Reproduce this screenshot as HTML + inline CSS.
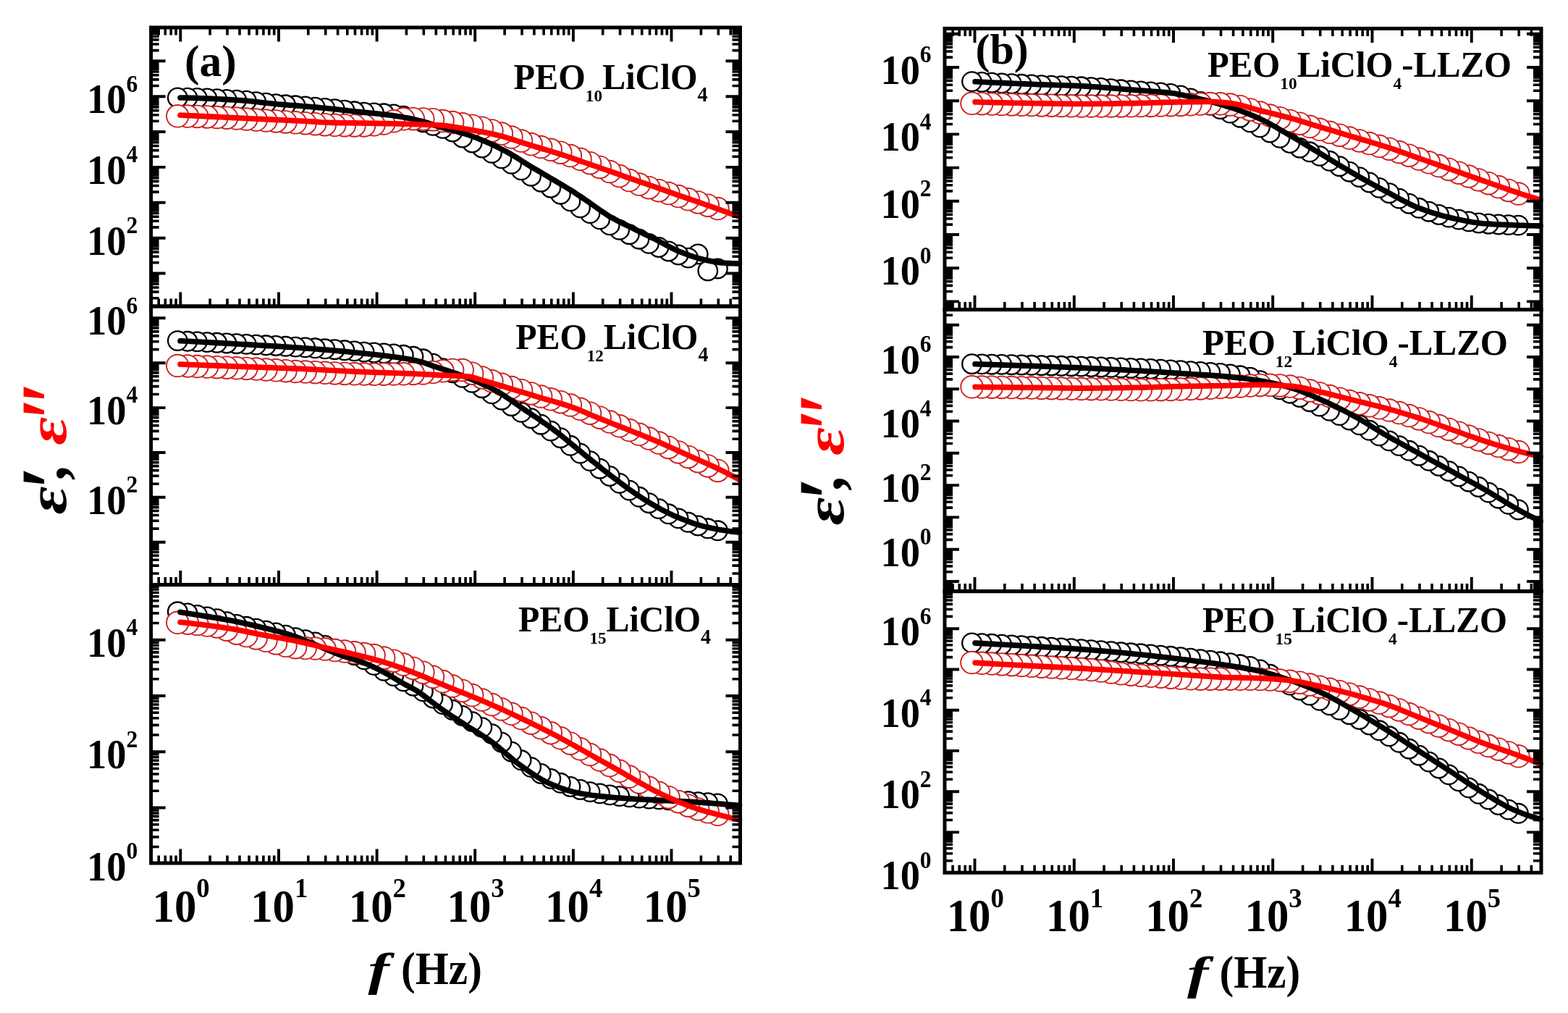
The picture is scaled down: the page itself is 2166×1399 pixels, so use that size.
<!DOCTYPE html>
<html><head><meta charset="utf-8"><title>Dielectric permittivity</title><style>
html,body{margin:0;padding:0;background:#fff;overflow:hidden}
svg{display:block}
text{font-family:"Liberation Serif",serif;font-weight:bold;fill:#000}
.it{font-style:italic}
</style></head><body>
<svg width="2166" height="1399" viewBox="0 0 2166 1399">
<rect x="0" y="0" width="2166" height="1399" fill="#fff"/>
<g fill="#fff" stroke="#000" stroke-width="2.3"><circle cx="991.4" cy="371" r="13.3"/><circle cx="977.8" cy="374" r="13.3"/><circle cx="964.2" cy="351" r="13.3"/><circle cx="950.7" cy="356.1" r="13.3"/><circle cx="937.1" cy="352" r="13.3"/><circle cx="923.5" cy="347" r="13.3"/><circle cx="910" cy="341.5" r="13.3"/><circle cx="896.4" cy="336.4" r="13.3"/><circle cx="882.9" cy="330.2" r="13.3"/><circle cx="869.3" cy="323.7" r="13.3"/><circle cx="855.7" cy="317.4" r="13.3"/><circle cx="842.2" cy="310.9" r="13.3"/><circle cx="828.6" cy="302.9" r="13.3"/><circle cx="815" cy="294.6" r="13.3"/><circle cx="801.5" cy="286.9" r="13.3"/><circle cx="787.9" cy="277.9" r="13.3"/><circle cx="774.3" cy="268.2" r="13.3"/><circle cx="760.8" cy="259.2" r="13.3"/><circle cx="747.2" cy="251.2" r="13.3"/><circle cx="733.6" cy="243.2" r="13.3"/><circle cx="720.1" cy="234.8" r="13.3"/><circle cx="706.5" cy="226.4" r="13.3"/><circle cx="692.9" cy="218.8" r="13.3"/><circle cx="679.4" cy="211.3" r="13.3"/><circle cx="665.8" cy="204" r="13.3"/><circle cx="652.2" cy="197" r="13.3"/><circle cx="638.7" cy="190" r="13.3"/><circle cx="625.1" cy="182" r="13.3"/><circle cx="611.6" cy="177.3" r="13.3"/><circle cx="598" cy="173.4" r="13.3"/><circle cx="584.4" cy="168.7" r="13.3"/><circle cx="570.9" cy="164.1" r="13.3"/><circle cx="557.3" cy="160.1" r="13.3"/><circle cx="543.7" cy="157.9" r="13.3"/><circle cx="530.2" cy="156.8" r="13.3"/><circle cx="516.6" cy="156" r="13.3"/><circle cx="503" cy="155.2" r="13.3"/><circle cx="489.5" cy="153.8" r="13.3"/><circle cx="475.9" cy="152.2" r="13.3"/><circle cx="462.3" cy="150.7" r="13.3"/><circle cx="448.8" cy="149.4" r="13.3"/><circle cx="435.2" cy="148.1" r="13.3"/><circle cx="421.6" cy="146.9" r="13.3"/><circle cx="408.1" cy="145.8" r="13.3"/><circle cx="394.5" cy="144.8" r="13.3"/><circle cx="381" cy="143.6" r="13.3"/><circle cx="367.4" cy="142.2" r="13.3"/><circle cx="353.8" cy="140.6" r="13.3"/><circle cx="340.3" cy="139.2" r="13.3"/><circle cx="326.7" cy="138.2" r="13.3"/><circle cx="313.1" cy="137.4" r="13.3"/><circle cx="299.6" cy="136.7" r="13.3"/><circle cx="286" cy="136" r="13.3"/><circle cx="272.4" cy="135.5" r="13.3"/><circle cx="258.9" cy="135.1" r="13.3"/><circle cx="245.3" cy="135" r="13.3"/></g>
<g fill="#fff" stroke="#cc2222" stroke-width="1.9"><circle cx="991.4" cy="288.1" r="15.3"/><circle cx="977.8" cy="283.7" r="15.3"/><circle cx="964.2" cy="279.4" r="15.3"/><circle cx="950.7" cy="275.3" r="15.3"/><circle cx="937.1" cy="271.1" r="15.3"/><circle cx="923.5" cy="267.1" r="15.3"/><circle cx="910" cy="263.2" r="15.3"/><circle cx="896.4" cy="259.2" r="15.3"/><circle cx="882.9" cy="254.6" r="15.3"/><circle cx="869.3" cy="249.1" r="15.3"/><circle cx="855.7" cy="243.1" r="15.3"/><circle cx="842.2" cy="237" r="15.3"/><circle cx="828.6" cy="230.9" r="15.3"/><circle cx="815" cy="225.2" r="15.3"/><circle cx="801.5" cy="219.8" r="15.3"/><circle cx="787.9" cy="215.1" r="15.3"/><circle cx="774.3" cy="210.7" r="15.3"/><circle cx="760.8" cy="206.8" r="15.3"/><circle cx="747.2" cy="203" r="15.3"/><circle cx="733.6" cy="199.1" r="15.3"/><circle cx="720.1" cy="194.6" r="15.3"/><circle cx="706.5" cy="189.5" r="15.3"/><circle cx="692.9" cy="184.6" r="15.3"/><circle cx="679.4" cy="180.4" r="15.3"/><circle cx="665.8" cy="176.7" r="15.3"/><circle cx="652.2" cy="173.7" r="15.3"/><circle cx="638.7" cy="171.3" r="15.3"/><circle cx="625.1" cy="169" r="15.3"/><circle cx="611.6" cy="167" r="15.3"/><circle cx="598" cy="165.2" r="15.3"/><circle cx="584.4" cy="164.4" r="15.3"/><circle cx="570.9" cy="164.2" r="15.3"/><circle cx="557.3" cy="164.3" r="15.3"/><circle cx="543.7" cy="167.3" r="15.3"/><circle cx="530.2" cy="170.5" r="15.3"/><circle cx="516.6" cy="172.3" r="15.3"/><circle cx="503" cy="173.4" r="15.3"/><circle cx="489.5" cy="173.4" r="15.3"/><circle cx="475.9" cy="173.2" r="15.3"/><circle cx="462.3" cy="172.8" r="15.3"/><circle cx="448.8" cy="172.2" r="15.3"/><circle cx="435.2" cy="171.2" r="15.3"/><circle cx="421.6" cy="170.2" r="15.3"/><circle cx="408.1" cy="169.3" r="15.3"/><circle cx="394.5" cy="168.4" r="15.3"/><circle cx="381" cy="167.4" r="15.3"/><circle cx="367.4" cy="166.5" r="15.3"/><circle cx="353.8" cy="165.5" r="15.3"/><circle cx="340.3" cy="164.5" r="15.3"/><circle cx="326.7" cy="163.5" r="15.3"/><circle cx="313.1" cy="162.7" r="15.3"/><circle cx="299.6" cy="162" r="15.3"/><circle cx="286" cy="161.4" r="15.3"/><circle cx="272.4" cy="160.9" r="15.3"/><circle cx="258.9" cy="160.6" r="15.3"/><circle cx="245.3" cy="160.3" r="15.3"/></g>
<path d="M249 135 L253.9 135 L258.7 135.1 L263.6 135.2 L268.4 135.4 L273.3 135.5 L278.2 135.7 L283 135.9 L287.9 136.1 L292.7 136.3 L297.6 136.6 L302.4 136.8 L307.3 137.1 L312.2 137.4 L317 137.6 L321.9 137.9 L326.7 138.2 L331.6 138.5 L336.5 138.9 L341.3 139.3 L346.2 139.8 L351 140.3 L355.9 140.8 L360.7 141.4 L365.6 142 L370.5 142.5 L375.3 143 L380.2 143.5 L385 144 L389.9 144.4 L394.8 144.8 L399.6 145.2 L404.5 145.5 L409.3 145.9 L414.2 146.3 L419 146.7 L423.9 147.1 L428.8 147.5 L433.6 147.9 L438.5 148.4 L443.3 148.9 L448.2 149.3 L453.1 149.8 L457.9 150.3 L462.8 150.8 L467.6 151.3 L472.5 151.9 L477.3 152.4 L482.2 153 L487.1 153.5 L491.9 154.1 L496.8 154.6 L501.6 155.1 L506.5 155.5 L511.4 156 L516.2 156.5 L521.1 157 L525.9 157.6 L530.8 158.1 L535.7 158.7 L540.5 159.3 L545.4 160 L550.2 160.7 L555.1 161.5 L559.9 162.4 L564.8 163.3 L569.7 164.3 L574.5 165.4 L579.4 166.6 L584.2 167.8 L589.1 169.2 L594 170.9 L598.8 172.6 L603.7 174.2 L608.5 175.5 L613.4 176.8 L618.2 178 L623.1 179.3 L628 180.6 L632.8 182 L637.7 183.4 L642.5 184.9 L647.4 186.5 L652.3 188.2 L657.1 190 L662 191.9 L666.8 193.9 L671.7 196 L676.5 198.1 L681.4 200.4 L686.3 202.7 L691.1 205.1 L696 207.6 L700.8 210.2 L705.7 212.9 L710.6 215.8 L715.4 218.8 L720.3 221.9 L725.1 225 L730 228 L734.8 230.9 L739.7 233.8 L744.6 236.6 L749.4 239.5 L754.3 242.3 L759.1 245.2 L764 248.1 L768.9 250.9 L773.7 253.8 L778.6 256.6 L783.4 259.6 L788.3 262.6 L793.2 265.6 L798 268.8 L802.9 272 L807.7 275.3 L812.6 278.6 L817.4 282 L822.3 285.5 L827.2 289 L832 292.4 L836.9 295.7 L841.7 298.8 L846.6 301.5 L851.5 304.1 L856.3 306.6 L861.2 309 L866 311.3 L870.9 313.7 L875.7 316.1 L880.6 318.5 L885.5 320.9 L890.3 323.3 L895.2 325.6 L900 328 L904.9 330.4 L909.8 332.9 L914.6 335.5 L919.5 338.1 L924.3 340.7 L929.2 343.2 L934 345.4 L938.9 347.5 L943.8 349.4 L948.6 351.3 L953.5 353.1 L958.3 354.7 L963.2 356.2 L968.1 357.5 L972.9 358.6 L977.8 359.7 L982.6 360.8 L987.5 361.7 L992.3 362.4 L997.2 363 L1002.1 363.3 L1006.9 363.6 L1011.8 363.8 L1016.6 363.9 L1021.5 364" fill="none" stroke="#000" stroke-width="7.6" stroke-linecap="round" stroke-linejoin="round"/>
<path d="M249 159 L253.9 159.2 L258.7 159.5 L263.6 159.7 L268.4 159.9 L273.3 160.2 L278.2 160.4 L283 160.7 L287.9 160.9 L292.7 161.1 L297.6 161.4 L302.4 161.6 L307.3 161.8 L312.2 162.1 L317 162.3 L321.9 162.6 L326.7 162.8 L331.6 163 L336.5 163.3 L341.3 163.5 L346.2 163.7 L351 164 L355.9 164.2 L360.7 164.4 L365.6 164.7 L370.5 164.9 L375.3 165.1 L380.2 165.4 L385 165.6 L389.9 165.8 L394.8 166.1 L399.6 166.3 L404.5 166.6 L409.3 166.8 L414.2 167 L419 167.3 L423.9 167.5 L428.8 167.8 L433.6 168.1 L438.5 168.4 L443.3 168.8 L448.2 169 L453.1 169.3 L457.9 169.4 L462.8 169.6 L467.6 169.6 L472.5 169.7 L477.3 169.8 L482.2 169.8 L487.1 169.9 L491.9 169.9 L496.8 170 L501.6 170.1 L506.5 170.1 L511.4 170.2 L516.2 170.3 L521.1 170.4 L525.9 170.5 L530.8 170.6 L535.7 170.6 L540.5 170.7 L545.4 170.8 L550.2 171 L555.1 171.1 L559.9 171.2 L564.8 171.3 L569.7 171.4 L574.5 171.6 L579.4 171.7 L584.2 171.9 L589.1 172.1 L594 172.3 L598.8 172.5 L603.7 172.8 L608.5 173 L613.4 173.4 L618.2 174 L623.1 174.7 L628 175.4 L632.8 176.3 L637.7 177.1 L642.5 178 L647.4 178.8 L652.3 179.7 L657.1 180.5 L662 181.4 L666.8 182.3 L671.7 183.3 L676.5 184.3 L681.4 185.3 L686.3 186.5 L691.1 187.6 L696 188.9 L700.8 190.3 L705.7 191.8 L710.6 193.4 L715.4 195 L720.3 196.6 L725.1 198.2 L730 199.7 L734.8 201.2 L739.7 202.6 L744.6 204 L749.4 205.5 L754.3 206.9 L759.1 208.3 L764 209.8 L768.9 211.3 L773.7 212.8 L778.6 214.4 L783.4 216 L788.3 217.7 L793.2 219.4 L798 221.1 L802.9 222.8 L807.7 224.5 L812.6 226.1 L817.4 227.8 L822.3 229.5 L827.2 231.1 L832 232.8 L836.9 234.5 L841.7 236.2 L846.6 237.9 L851.5 239.6 L856.3 241.3 L861.2 243.1 L866 244.8 L870.9 246.5 L875.7 248.2 L880.6 249.9 L885.5 251.6 L890.3 253.2 L895.2 254.9 L900 256.5 L904.9 258.2 L909.8 259.9 L914.6 261.6 L919.5 263.4 L924.3 265.1 L929.2 266.8 L934 268.6 L938.9 270.3 L943.8 271.9 L948.6 273.6 L953.5 275.3 L958.3 276.9 L963.2 278.6 L968.1 280.3 L972.9 282 L977.8 283.7 L982.6 285.4 L987.5 287.1 L992.3 288.9 L997.2 290.6 L1002.1 292.3 L1006.9 294.1 L1011.8 295.8 L1016.6 297.6 L1021.5 299.3" fill="none" stroke="#ff0000" stroke-width="7.6" stroke-linecap="round" stroke-linejoin="round"/>
<g fill="#fff" stroke="#000" stroke-width="2.3"><circle cx="991.4" cy="732.8" r="13.3"/><circle cx="977.8" cy="729.8" r="13.3"/><circle cx="964.2" cy="726" r="13.3"/><circle cx="950.7" cy="721.3" r="13.3"/><circle cx="937.1" cy="715.9" r="13.3"/><circle cx="923.5" cy="709.8" r="13.3"/><circle cx="910" cy="702.6" r="13.3"/><circle cx="896.4" cy="694.7" r="13.3"/><circle cx="882.9" cy="686.3" r="13.3"/><circle cx="869.3" cy="677.1" r="13.3"/><circle cx="855.7" cy="667.4" r="13.3"/><circle cx="842.2" cy="657.5" r="13.3"/><circle cx="828.6" cy="647.2" r="13.3"/><circle cx="815" cy="636.6" r="13.3"/><circle cx="801.5" cy="626.1" r="13.3"/><circle cx="787.9" cy="615.3" r="13.3"/><circle cx="774.3" cy="604.7" r="13.3"/><circle cx="760.8" cy="595.1" r="13.3"/><circle cx="747.2" cy="586.2" r="13.3"/><circle cx="733.6" cy="577.7" r="13.3"/><circle cx="720.1" cy="569.3" r="13.3"/><circle cx="706.5" cy="560.7" r="13.3"/><circle cx="692.9" cy="552.2" r="13.3"/><circle cx="679.4" cy="543.9" r="13.3"/><circle cx="665.8" cy="535.7" r="13.3"/><circle cx="652.2" cy="528.3" r="13.3"/><circle cx="638.7" cy="521.3" r="13.3"/><circle cx="625.1" cy="514.8" r="13.3"/><circle cx="611.6" cy="508.6" r="13.3"/><circle cx="598" cy="502.1" r="13.3"/><circle cx="584.4" cy="495.8" r="13.3"/><circle cx="570.9" cy="492.3" r="13.3"/><circle cx="557.3" cy="490.3" r="13.3"/><circle cx="543.7" cy="488.9" r="13.3"/><circle cx="530.2" cy="487.9" r="13.3"/><circle cx="516.6" cy="487" r="13.3"/><circle cx="503" cy="486.1" r="13.3"/><circle cx="489.5" cy="484.9" r="13.3"/><circle cx="475.9" cy="483.8" r="13.3"/><circle cx="462.3" cy="482.7" r="13.3"/><circle cx="448.8" cy="481.8" r="13.3"/><circle cx="435.2" cy="480.8" r="13.3"/><circle cx="421.6" cy="479.9" r="13.3"/><circle cx="408.1" cy="479.1" r="13.3"/><circle cx="394.5" cy="478.3" r="13.3"/><circle cx="381" cy="477.5" r="13.3"/><circle cx="367.4" cy="476.8" r="13.3"/><circle cx="353.8" cy="476.1" r="13.3"/><circle cx="340.3" cy="475.4" r="13.3"/><circle cx="326.7" cy="474.7" r="13.3"/><circle cx="313.1" cy="474" r="13.3"/><circle cx="299.6" cy="473.3" r="13.3"/><circle cx="286" cy="472.6" r="13.3"/><circle cx="272.4" cy="471.9" r="13.3"/><circle cx="258.9" cy="471.3" r="13.3"/><circle cx="245.3" cy="470.6" r="13.3"/></g>
<g fill="#fff" stroke="#cc2222" stroke-width="1.9"><circle cx="991.4" cy="649.9" r="15.3"/><circle cx="977.8" cy="643.4" r="15.3"/><circle cx="964.2" cy="637.2" r="15.3"/><circle cx="950.7" cy="630.9" r="15.3"/><circle cx="937.1" cy="624.4" r="15.3"/><circle cx="923.5" cy="617.9" r="15.3"/><circle cx="910" cy="611.6" r="15.3"/><circle cx="896.4" cy="605.6" r="15.3"/><circle cx="882.9" cy="599.8" r="15.3"/><circle cx="869.3" cy="594.1" r="15.3"/><circle cx="855.7" cy="588.3" r="15.3"/><circle cx="842.2" cy="582.6" r="15.3"/><circle cx="828.6" cy="576.7" r="15.3"/><circle cx="815" cy="570.7" r="15.3"/><circle cx="801.5" cy="564.8" r="15.3"/><circle cx="787.9" cy="559.5" r="15.3"/><circle cx="774.3" cy="555.2" r="15.3"/><circle cx="760.8" cy="551.3" r="15.3"/><circle cx="747.2" cy="547.5" r="15.3"/><circle cx="733.6" cy="543.4" r="15.3"/><circle cx="720.1" cy="539.2" r="15.3"/><circle cx="706.5" cy="535.1" r="15.3"/><circle cx="692.9" cy="530.8" r="15.3"/><circle cx="679.4" cy="526.3" r="15.3"/><circle cx="665.8" cy="521.4" r="15.3"/><circle cx="652.2" cy="515.7" r="15.3"/><circle cx="638.7" cy="511" r="15.3"/><circle cx="625.1" cy="510.9" r="15.3"/><circle cx="611.6" cy="512.3" r="15.3"/><circle cx="598" cy="514.1" r="15.3"/><circle cx="584.4" cy="515.5" r="15.3"/><circle cx="570.9" cy="515.9" r="15.3"/><circle cx="557.3" cy="516.3" r="15.3"/><circle cx="543.7" cy="516.5" r="15.3"/><circle cx="530.2" cy="516.7" r="15.3"/><circle cx="516.6" cy="516.8" r="15.3"/><circle cx="503" cy="516.6" r="15.3"/><circle cx="489.5" cy="516.3" r="15.3"/><circle cx="475.9" cy="515.9" r="15.3"/><circle cx="462.3" cy="515.4" r="15.3"/><circle cx="448.8" cy="514.8" r="15.3"/><circle cx="435.2" cy="514.2" r="15.3"/><circle cx="421.6" cy="513.6" r="15.3"/><circle cx="408.1" cy="513" r="15.3"/><circle cx="394.5" cy="512.2" r="15.3"/><circle cx="381" cy="511.3" r="15.3"/><circle cx="367.4" cy="510.5" r="15.3"/><circle cx="353.8" cy="509.6" r="15.3"/><circle cx="340.3" cy="508.9" r="15.3"/><circle cx="326.7" cy="508.3" r="15.3"/><circle cx="313.1" cy="507.7" r="15.3"/><circle cx="299.6" cy="507.2" r="15.3"/><circle cx="286" cy="506.6" r="15.3"/><circle cx="272.4" cy="506" r="15.3"/><circle cx="258.9" cy="505.5" r="15.3"/><circle cx="245.3" cy="505" r="15.3"/></g>
<path d="M249 470.8 L253.9 471 L258.7 471.3 L263.6 471.5 L268.4 471.8 L273.3 472 L278.2 472.3 L283 472.6 L287.9 472.8 L292.7 473.1 L297.6 473.4 L302.4 473.6 L307.3 473.9 L312.2 474.2 L317 474.4 L321.9 474.7 L326.7 475 L331.6 475.3 L336.5 475.6 L341.3 475.8 L346.2 476.1 L351 476.4 L355.9 476.7 L360.7 477 L365.6 477.3 L370.5 477.6 L375.3 477.8 L380.2 478.1 L385 478.4 L389.9 478.8 L394.8 479.1 L399.6 479.4 L404.5 479.7 L409.3 480 L414.2 480.4 L419 480.7 L423.9 481.1 L428.8 481.5 L433.6 481.8 L438.5 482.2 L443.3 482.6 L448.2 483 L453.1 483.4 L457.9 483.8 L462.8 484.2 L467.6 484.6 L472.5 485.1 L477.3 485.5 L482.2 486 L487.1 486.5 L491.9 487 L496.8 487.5 L501.6 488 L506.5 488.5 L511.4 489 L516.2 489.5 L521.1 490.1 L525.9 490.6 L530.8 491.2 L535.7 491.8 L540.5 492.4 L545.4 493.1 L550.2 493.8 L555.1 494.5 L559.9 495.3 L564.8 496.1 L569.7 497 L574.5 498 L579.4 499.1 L584.2 500.5 L589.1 502.1 L594 503.9 L598.8 505.6 L603.7 507.2 L608.5 508.8 L613.4 510.3 L618.2 511.9 L623.1 513.5 L628 515.1 L632.8 516.8 L637.7 518.6 L642.5 520.4 L647.4 522.3 L652.3 524.2 L657.1 526.2 L662 528.3 L666.8 530.5 L671.7 532.7 L676.5 535.1 L681.4 537.6 L686.3 540.2 L691.1 543.1 L696 546.1 L700.8 549.3 L705.7 552.7 L710.6 556.1 L715.4 559.5 L720.3 562.9 L725.1 566.2 L730 569.4 L734.8 572.7 L739.7 575.9 L744.6 579.2 L749.4 582.6 L754.3 585.9 L759.1 589.4 L764 592.9 L768.9 596.6 L773.7 600.3 L778.6 604.2 L783.4 608.2 L788.3 612.2 L793.2 616.2 L798 620.3 L802.9 624.3 L807.7 628.2 L812.6 632.1 L817.4 636 L822.3 639.9 L827.2 643.8 L832 647.7 L836.9 651.5 L841.7 655.3 L846.6 659 L851.5 662.6 L856.3 666.3 L861.2 669.9 L866 673.5 L870.9 677 L875.7 680.4 L880.6 683.7 L885.5 686.9 L890.3 690 L895.2 693 L900 695.9 L904.9 698.7 L909.8 701.5 L914.6 704.2 L919.5 706.7 L924.3 709.1 L929.2 711.4 L934 713.5 L938.9 715.5 L943.8 717.5 L948.6 719.3 L953.5 721.1 L958.3 722.8 L963.2 724.4 L968.1 725.8 L972.9 727.1 L977.8 728.2 L982.6 729.3 L987.5 730.3 L992.3 731.2 L997.2 732 L1002.1 732.8 L1006.9 733.5 L1011.8 734.2 L1016.6 734.8 L1021.5 735.3" fill="none" stroke="#000" stroke-width="7.6" stroke-linecap="round" stroke-linejoin="round"/>
<path d="M249 503.1 L253.9 503.3 L258.7 503.5 L263.6 503.7 L268.4 503.8 L273.3 504 L278.2 504.2 L283 504.4 L287.9 504.6 L292.7 504.8 L297.6 504.9 L302.4 505.1 L307.3 505.3 L312.2 505.5 L317 505.7 L321.9 505.9 L326.7 506 L331.6 506.2 L336.5 506.4 L341.3 506.6 L346.2 506.8 L351 506.9 L355.9 507.1 L360.7 507.3 L365.6 507.5 L370.5 507.6 L375.3 507.8 L380.2 508 L385 508.2 L389.9 508.4 L394.8 508.5 L399.6 508.7 L404.5 508.9 L409.3 509.1 L414.2 509.3 L419 509.5 L423.9 509.7 L428.8 510 L433.6 510.2 L438.5 510.5 L443.3 510.7 L448.2 511 L453.1 511.2 L457.9 511.5 L462.8 511.8 L467.6 512 L472.5 512.3 L477.3 512.5 L482.2 512.8 L487.1 513 L491.9 513.2 L496.8 513.4 L501.6 513.7 L506.5 513.8 L511.4 514 L516.2 514.2 L521.1 514.4 L525.9 514.5 L530.8 514.7 L535.7 514.9 L540.5 515 L545.4 515.2 L550.2 515.3 L555.1 515.5 L559.9 515.7 L564.8 515.9 L569.7 516.1 L574.5 516.3 L579.4 516.5 L584.2 516.8 L589.1 517.1 L594 517.3 L598.8 517.6 L603.7 517.9 L608.5 518.1 L613.4 518.3 L618.2 518.5 L623.1 518.7 L628 518.9 L632.8 519.1 L637.7 519.4 L642.5 519.7 L647.4 520.1 L652.3 520.8 L657.1 522.3 L662 523.9 L666.8 525.3 L671.7 526.7 L676.5 528.2 L681.4 529.6 L686.3 531 L691.1 532.5 L696 533.9 L700.8 535.4 L705.7 536.8 L710.6 538.3 L715.4 539.8 L720.3 541.3 L725.1 542.7 L730 544.2 L734.8 545.7 L739.7 547.2 L744.6 548.7 L749.4 550.1 L754.3 551.5 L759.1 552.9 L764 554.2 L768.9 555.6 L773.7 557 L778.6 558.5 L783.4 560 L788.3 561.6 L793.2 563.4 L798 565.3 L802.9 567.3 L807.7 569.3 L812.6 571.4 L817.4 573.4 L822.3 575.5 L827.2 577.5 L832 579.4 L836.9 581.3 L841.7 583.2 L846.6 585.2 L851.5 587.1 L856.3 589 L861.2 590.9 L866 592.8 L870.9 594.8 L875.7 596.7 L880.6 598.6 L885.5 600.6 L890.3 602.5 L895.2 604.4 L900 606.4 L904.9 608.4 L909.8 610.5 L914.6 612.6 L919.5 614.7 L924.3 616.9 L929.2 619.1 L934 621.3 L938.9 623.5 L943.8 625.7 L948.6 627.9 L953.5 630.1 L958.3 632.3 L963.2 634.4 L968.1 636.6 L972.9 638.7 L977.8 640.8 L982.6 643 L987.5 645.2 L992.3 647.5 L997.2 649.9 L1002.1 652.3 L1006.9 654.8 L1011.8 657.3 L1016.6 659.9 L1021.5 662.5" fill="none" stroke="#ff0000" stroke-width="7.6" stroke-linecap="round" stroke-linejoin="round"/>
<g fill="#fff" stroke="#000" stroke-width="2.3"><circle cx="991.4" cy="1109.9" r="13.3"/><circle cx="977.8" cy="1108.7" r="13.3"/><circle cx="964.2" cy="1107.6" r="13.3"/><circle cx="950.7" cy="1106.6" r="13.3"/><circle cx="937.1" cy="1105.7" r="13.3"/><circle cx="923.5" cy="1104.8" r="13.3"/><circle cx="910" cy="1103.9" r="13.3"/><circle cx="896.4" cy="1103.1" r="13.3"/><circle cx="882.9" cy="1102.1" r="13.3"/><circle cx="869.3" cy="1100.9" r="13.3"/><circle cx="855.7" cy="1099.6" r="13.3"/><circle cx="842.2" cy="1097.9" r="13.3"/><circle cx="828.6" cy="1095.9" r="13.3"/><circle cx="815" cy="1093.6" r="13.3"/><circle cx="801.5" cy="1090.5" r="13.3"/><circle cx="787.9" cy="1086.5" r="13.3"/><circle cx="774.3" cy="1081.3" r="13.3"/><circle cx="760.8" cy="1075.5" r="13.3"/><circle cx="747.2" cy="1068.5" r="13.3"/><circle cx="733.6" cy="1059.6" r="13.3"/><circle cx="720.1" cy="1049.8" r="13.3"/><circle cx="706.5" cy="1038.2" r="13.3"/><circle cx="692.9" cy="1025.2" r="13.3"/><circle cx="679.4" cy="1013.6" r="13.3"/><circle cx="665.8" cy="1004.6" r="13.3"/><circle cx="652.2" cy="996.6" r="13.3"/><circle cx="638.7" cy="988.5" r="13.3"/><circle cx="625.1" cy="980.5" r="13.3"/><circle cx="611.6" cy="972.6" r="13.3"/><circle cx="598" cy="964" r="13.3"/><circle cx="584.4" cy="954.9" r="13.3"/><circle cx="570.9" cy="947.2" r="13.3"/><circle cx="557.3" cy="940.8" r="13.3"/><circle cx="543.7" cy="933.6" r="13.3"/><circle cx="530.2" cy="926.3" r="13.3"/><circle cx="516.6" cy="918.6" r="13.3"/><circle cx="503" cy="910.9" r="13.3"/><circle cx="489.5" cy="904.9" r="13.3"/><circle cx="475.9" cy="900.7" r="13.3"/><circle cx="462.3" cy="896.3" r="13.3"/><circle cx="448.8" cy="891.5" r="13.3"/><circle cx="435.2" cy="886.9" r="13.3"/><circle cx="421.6" cy="883.7" r="13.3"/><circle cx="408.1" cy="880.6" r="13.3"/><circle cx="394.5" cy="877.1" r="13.3"/><circle cx="381" cy="874" r="13.3"/><circle cx="367.4" cy="871.1" r="13.3"/><circle cx="353.8" cy="868.2" r="13.3"/><circle cx="340.3" cy="865.3" r="13.3"/><circle cx="326.7" cy="862.5" r="13.3"/><circle cx="313.1" cy="858.6" r="13.3"/><circle cx="299.6" cy="854.6" r="13.3"/><circle cx="286" cy="851.9" r="13.3"/><circle cx="272.4" cy="849.4" r="13.3"/><circle cx="258.9" cy="847" r="13.3"/><circle cx="245.3" cy="844.8" r="13.3"/></g>
<g fill="#fff" stroke="#cc2222" stroke-width="1.9"><circle cx="991.4" cy="1124.8" r="15.3"/><circle cx="977.8" cy="1121.3" r="15.3"/><circle cx="964.2" cy="1117.4" r="15.3"/><circle cx="950.7" cy="1112.7" r="15.3"/><circle cx="937.1" cy="1107.2" r="15.3"/><circle cx="923.5" cy="1101.2" r="15.3"/><circle cx="910" cy="1094.8" r="15.3"/><circle cx="896.4" cy="1087.8" r="15.3"/><circle cx="882.9" cy="1080.4" r="15.3"/><circle cx="869.3" cy="1072.6" r="15.3"/><circle cx="855.7" cy="1064.8" r="15.3"/><circle cx="842.2" cy="1057.1" r="15.3"/><circle cx="828.6" cy="1049.6" r="15.3"/><circle cx="815" cy="1042" r="15.3"/><circle cx="801.5" cy="1034.3" r="15.3"/><circle cx="787.9" cy="1026.7" r="15.3"/><circle cx="774.3" cy="1019.3" r="15.3"/><circle cx="760.8" cy="1012.2" r="15.3"/><circle cx="747.2" cy="1005.3" r="15.3"/><circle cx="733.6" cy="998.7" r="15.3"/><circle cx="720.1" cy="992.1" r="15.3"/><circle cx="706.5" cy="985.8" r="15.3"/><circle cx="692.9" cy="979.5" r="15.3"/><circle cx="679.4" cy="973" r="15.3"/><circle cx="665.8" cy="966.5" r="15.3"/><circle cx="652.2" cy="960.1" r="15.3"/><circle cx="638.7" cy="953.9" r="15.3"/><circle cx="625.1" cy="947.5" r="15.3"/><circle cx="611.6" cy="941.1" r="15.3"/><circle cx="598" cy="934.8" r="15.3"/><circle cx="584.4" cy="928.7" r="15.3"/><circle cx="570.9" cy="922.9" r="15.3"/><circle cx="557.3" cy="917.6" r="15.3"/><circle cx="543.7" cy="912.7" r="15.3"/><circle cx="530.2" cy="908.5" r="15.3"/><circle cx="516.6" cy="905.1" r="15.3"/><circle cx="503" cy="903" r="15.3"/><circle cx="489.5" cy="901.3" r="15.3"/><circle cx="475.9" cy="899.6" r="15.3"/><circle cx="462.3" cy="898.1" r="15.3"/><circle cx="448.8" cy="896.6" r="15.3"/><circle cx="435.2" cy="895.5" r="15.3"/><circle cx="421.6" cy="895.1" r="15.3"/><circle cx="408.1" cy="894.2" r="15.3"/><circle cx="394.5" cy="891.8" r="15.3"/><circle cx="381" cy="888.4" r="15.3"/><circle cx="367.4" cy="884.8" r="15.3"/><circle cx="353.8" cy="881.4" r="15.3"/><circle cx="340.3" cy="878.1" r="15.3"/><circle cx="326.7" cy="874.7" r="15.3"/><circle cx="313.1" cy="869.7" r="15.3"/><circle cx="299.6" cy="865.4" r="15.3"/><circle cx="286" cy="863.6" r="15.3"/><circle cx="272.4" cy="862" r="15.3"/><circle cx="258.9" cy="860.7" r="15.3"/><circle cx="245.3" cy="859.8" r="15.3"/></g>
<path d="M249 845.4 L253.9 846.2 L258.7 846.9 L263.6 847.7 L268.4 848.5 L273.3 849.3 L278.2 850.1 L283 850.9 L287.9 851.7 L292.7 852.5 L297.6 853.3 L302.4 854.1 L307.3 854.9 L312.2 855.8 L317 856.6 L321.9 857.5 L326.7 858.5 L331.6 859.5 L336.5 860.5 L341.3 861.6 L346.2 862.7 L351 863.8 L355.9 865 L360.7 866.2 L365.6 867.4 L370.5 868.5 L375.3 869.7 L380.2 870.9 L385 872.2 L389.9 873.5 L394.8 874.9 L399.6 876.4 L404.5 878 L409.3 879.7 L414.2 881.6 L419 883.6 L423.9 885.5 L428.8 887.5 L433.6 889.5 L438.5 891.5 L443.3 893.6 L448.2 895.7 L453.1 897.7 L457.9 899.8 L462.8 901.8 L467.6 903.6 L472.5 905.4 L477.3 907 L482.2 908.5 L487.1 910.1 L491.9 911.6 L496.8 913.2 L501.6 915 L506.5 917 L511.4 919.1 L516.2 921.3 L521.1 923.7 L525.9 926.1 L530.8 928.6 L535.7 931.3 L540.5 934.1 L545.4 937 L550.2 939.9 L555.1 942.7 L559.9 945.5 L564.8 948 L569.7 950.6 L574.5 953.3 L579.4 956.5 L584.2 959.9 L589.1 963.6 L594 967.4 L598.8 971.1 L603.7 974.8 L608.5 978.3 L613.4 981.7 L618.2 985 L623.1 988.3 L628 991.5 L632.8 994.6 L637.7 997.8 L642.5 1001 L647.4 1004.1 L652.3 1007.1 L657.1 1010 L662 1013 L666.8 1016.1 L671.7 1019.2 L676.5 1022.5 L681.4 1026.1 L686.3 1030 L691.1 1034 L696 1038.2 L700.8 1042.4 L705.7 1046.5 L710.6 1050.6 L715.4 1054.4 L720.3 1057.9 L725.1 1061.3 L730 1064.8 L734.8 1068.1 L739.7 1071.3 L744.6 1074.4 L749.4 1077.2 L754.3 1079.8 L759.1 1082.1 L764 1084.1 L768.9 1086.1 L773.7 1088 L778.6 1089.7 L783.4 1091.3 L788.3 1092.7 L793.2 1094 L798 1095 L802.9 1095.9 L807.7 1096.7 L812.6 1097.5 L817.4 1098.2 L822.3 1098.8 L827.2 1099.4 L832 1099.9 L836.9 1100.4 L841.7 1100.9 L846.6 1101.3 L851.5 1101.7 L856.3 1102.1 L861.2 1102.4 L866 1102.7 L870.9 1103.1 L875.7 1103.4 L880.6 1103.7 L885.5 1103.9 L890.3 1104.2 L895.2 1104.4 L900 1104.6 L904.9 1104.9 L909.8 1105.1 L914.6 1105.3 L919.5 1105.6 L924.3 1105.8 L929.2 1106.1 L934 1106.3 L938.9 1106.5 L943.8 1106.8 L948.6 1107 L953.5 1107.3 L958.3 1107.6 L963.2 1107.9 L968.1 1108.2 L972.9 1108.6 L977.8 1108.9 L982.6 1109.3 L987.5 1109.7 L992.3 1110 L997.2 1110.4 L1002.1 1110.8 L1006.9 1111.2 L1011.8 1111.6 L1016.6 1112 L1021.5 1112.4" fill="none" stroke="#000" stroke-width="7.6" stroke-linecap="round" stroke-linejoin="round"/>
<path d="M249 859.2 L253.9 859.7 L258.7 860.2 L263.6 860.8 L268.4 861.4 L273.3 862 L278.2 862.6 L283 863.2 L287.9 863.8 L292.7 864.5 L297.6 865.1 L302.4 865.8 L307.3 866.5 L312.2 867.3 L317 868 L321.9 868.8 L326.7 869.7 L331.6 870.6 L336.5 871.5 L341.3 872.5 L346.2 873.5 L351 874.5 L355.9 875.5 L360.7 876.4 L365.6 877.3 L370.5 878.2 L375.3 879 L380.2 879.9 L385 880.7 L389.9 881.6 L394.8 882.5 L399.6 883.4 L404.5 884.4 L409.3 885.4 L414.2 886.5 L419 887.5 L423.9 888.6 L428.8 889.7 L433.6 890.9 L438.5 892 L443.3 893.1 L448.2 894.2 L453.1 895.4 L457.9 896.5 L462.8 897.6 L467.6 898.6 L472.5 899.7 L477.3 900.8 L482.2 902 L487.1 903.1 L491.9 904.3 L496.8 905.5 L501.6 906.7 L506.5 907.9 L511.4 909.2 L516.2 910.5 L521.1 911.9 L525.9 913.2 L530.8 914.7 L535.7 916.1 L540.5 917.7 L545.4 919.3 L550.2 921 L555.1 922.7 L559.9 924.6 L564.8 926.4 L569.7 928.3 L574.5 930.2 L579.4 932.1 L584.2 934.1 L589.1 936.1 L594 938.2 L598.8 940.2 L603.7 942.3 L608.5 944.3 L613.4 946.3 L618.2 948.3 L623.1 950.3 L628 952.2 L632.8 954.2 L637.7 956.1 L642.5 958.1 L647.4 960.1 L652.3 962 L657.1 964 L662 966 L666.8 968.1 L671.7 970.1 L676.5 972.2 L681.4 974.4 L686.3 976.5 L691.1 978.7 L696 980.9 L700.8 983.1 L705.7 985.4 L710.6 987.6 L715.4 989.9 L720.3 992.2 L725.1 994.5 L730 996.9 L734.8 999.2 L739.7 1001.6 L744.6 1004 L749.4 1006.5 L754.3 1008.9 L759.1 1011.4 L764 1013.9 L768.9 1016.4 L773.7 1019 L778.6 1021.6 L783.4 1024.3 L788.3 1027 L793.2 1029.7 L798 1032.4 L802.9 1035.1 L807.7 1037.8 L812.6 1040.6 L817.4 1043.3 L822.3 1046.1 L827.2 1048.8 L832 1051.5 L836.9 1054.2 L841.7 1056.9 L846.6 1059.6 L851.5 1062.3 L856.3 1065.1 L861.2 1067.9 L866 1070.7 L870.9 1073.5 L875.7 1076.3 L880.6 1079.1 L885.5 1081.8 L890.3 1084.5 L895.2 1087.2 L900 1089.8 L904.9 1092.3 L909.8 1094.7 L914.6 1097.1 L919.5 1099.4 L924.3 1101.6 L929.2 1103.8 L934 1105.9 L938.9 1108 L943.8 1110 L948.6 1111.9 L953.5 1113.7 L958.3 1115.4 L963.2 1117 L968.1 1118.5 L972.9 1119.9 L977.8 1121.3 L982.6 1122.6 L987.5 1123.8 L992.3 1125.1 L997.2 1126.4 L1002.1 1127.6 L1006.9 1128.9 L1011.8 1130.1 L1016.6 1131.3 L1021.5 1132.5" fill="none" stroke="#ff0000" stroke-width="7.6" stroke-linecap="round" stroke-linejoin="round"/>
<g fill="#fff" stroke="#000" stroke-width="2.3"><circle cx="2097.4" cy="311.1" r="13.3"/><circle cx="2083.7" cy="310.6" r="13.3"/><circle cx="2069.9" cy="310" r="13.3"/><circle cx="2056.2" cy="309.2" r="13.3"/><circle cx="2042.5" cy="308" r="13.3"/><circle cx="2028.8" cy="305.9" r="13.3"/><circle cx="2015" cy="303.1" r="13.3"/><circle cx="2001.3" cy="300.1" r="13.3"/><circle cx="1987.6" cy="296.5" r="13.3"/><circle cx="1973.8" cy="292.2" r="13.3"/><circle cx="1960.1" cy="287.3" r="13.3"/><circle cx="1946.4" cy="281.2" r="13.3"/><circle cx="1932.7" cy="274.1" r="13.3"/><circle cx="1919" cy="266.7" r="13.3"/><circle cx="1905.2" cy="259.4" r="13.3"/><circle cx="1891.5" cy="252" r="13.3"/><circle cx="1877.8" cy="244.6" r="13.3"/><circle cx="1864" cy="237.2" r="13.3"/><circle cx="1850.3" cy="229.7" r="13.3"/><circle cx="1836.6" cy="222.3" r="13.3"/><circle cx="1822.9" cy="215.4" r="13.3"/><circle cx="1809.2" cy="209.8" r="13.3"/><circle cx="1795.4" cy="204.2" r="13.3"/><circle cx="1781.7" cy="197.5" r="13.3"/><circle cx="1768" cy="190.3" r="13.3"/><circle cx="1754.2" cy="183" r="13.3"/><circle cx="1740.5" cy="175.8" r="13.3"/><circle cx="1726.8" cy="168.9" r="13.3"/><circle cx="1713.1" cy="162.2" r="13.3"/><circle cx="1699.3" cy="156.1" r="13.3"/><circle cx="1685.6" cy="150.6" r="13.3"/><circle cx="1671.9" cy="145.3" r="13.3"/><circle cx="1658.2" cy="140.4" r="13.3"/><circle cx="1644.5" cy="135.9" r="13.3"/><circle cx="1630.7" cy="131.9" r="13.3"/><circle cx="1617" cy="129.5" r="13.3"/><circle cx="1603.3" cy="128" r="13.3"/><circle cx="1589.5" cy="126.9" r="13.3"/><circle cx="1575.8" cy="126" r="13.3"/><circle cx="1562.1" cy="124.9" r="13.3"/><circle cx="1548.4" cy="123.8" r="13.3"/><circle cx="1534.7" cy="122.6" r="13.3"/><circle cx="1520.9" cy="121.5" r="13.3"/><circle cx="1507.2" cy="120.6" r="13.3"/><circle cx="1493.5" cy="119.8" r="13.3"/><circle cx="1479.8" cy="119.2" r="13.3"/><circle cx="1466" cy="118.6" r="13.3"/><circle cx="1452.3" cy="118.1" r="13.3"/><circle cx="1438.6" cy="117.6" r="13.3"/><circle cx="1424.8" cy="117" r="13.3"/><circle cx="1411.1" cy="116.3" r="13.3"/><circle cx="1397.4" cy="115.6" r="13.3"/><circle cx="1383.7" cy="114.9" r="13.3"/><circle cx="1370" cy="114.2" r="13.3"/><circle cx="1356.2" cy="113.4" r="13.3"/><circle cx="1342.5" cy="112.6" r="13.3"/></g>
<g fill="#fff" stroke="#cc2222" stroke-width="1.9"><circle cx="2097.4" cy="267.5" r="15.3"/><circle cx="2083.7" cy="262.9" r="15.3"/><circle cx="2069.9" cy="258.1" r="15.3"/><circle cx="2056.2" cy="253.2" r="15.3"/><circle cx="2042.5" cy="248.4" r="15.3"/><circle cx="2028.8" cy="243.5" r="15.3"/><circle cx="2015" cy="238.7" r="15.3"/><circle cx="2001.3" cy="233.9" r="15.3"/><circle cx="1987.6" cy="229.1" r="15.3"/><circle cx="1973.8" cy="224.3" r="15.3"/><circle cx="1960.1" cy="219.5" r="15.3"/><circle cx="1946.4" cy="214.7" r="15.3"/><circle cx="1932.7" cy="210" r="15.3"/><circle cx="1919" cy="205.7" r="15.3"/><circle cx="1905.2" cy="201.8" r="15.3"/><circle cx="1891.5" cy="198.1" r="15.3"/><circle cx="1877.8" cy="194.4" r="15.3"/><circle cx="1864" cy="190.6" r="15.3"/><circle cx="1850.3" cy="186.7" r="15.3"/><circle cx="1836.6" cy="182.8" r="15.3"/><circle cx="1822.9" cy="178.8" r="15.3"/><circle cx="1809.2" cy="174.8" r="15.3"/><circle cx="1795.4" cy="170.7" r="15.3"/><circle cx="1781.7" cy="166.9" r="15.3"/><circle cx="1768" cy="163.2" r="15.3"/><circle cx="1754.2" cy="159.5" r="15.3"/><circle cx="1740.5" cy="155.6" r="15.3"/><circle cx="1726.8" cy="151.4" r="15.3"/><circle cx="1713.1" cy="147.2" r="15.3"/><circle cx="1699.3" cy="144.5" r="15.3"/><circle cx="1685.6" cy="143.3" r="15.3"/><circle cx="1671.9" cy="143.1" r="15.3"/><circle cx="1658.2" cy="143.6" r="15.3"/><circle cx="1644.5" cy="144.3" r="15.3"/><circle cx="1630.7" cy="144.9" r="15.3"/><circle cx="1617" cy="145.2" r="15.3"/><circle cx="1603.3" cy="145.5" r="15.3"/><circle cx="1589.5" cy="145.9" r="15.3"/><circle cx="1575.8" cy="146.1" r="15.3"/><circle cx="1562.1" cy="146.3" r="15.3"/><circle cx="1548.4" cy="146.4" r="15.3"/><circle cx="1534.7" cy="146.5" r="15.3"/><circle cx="1520.9" cy="146.5" r="15.3"/><circle cx="1507.2" cy="146.5" r="15.3"/><circle cx="1493.5" cy="146.5" r="15.3"/><circle cx="1479.8" cy="146.3" r="15.3"/><circle cx="1466" cy="146" r="15.3"/><circle cx="1452.3" cy="145.7" r="15.3"/><circle cx="1438.6" cy="145.4" r="15.3"/><circle cx="1424.8" cy="145.1" r="15.3"/><circle cx="1411.1" cy="144.8" r="15.3"/><circle cx="1397.4" cy="144.4" r="15.3"/><circle cx="1383.7" cy="144" r="15.3"/><circle cx="1370" cy="143.6" r="15.3"/><circle cx="1356.2" cy="143.2" r="15.3"/><circle cx="1342.5" cy="142.8" r="15.3"/></g>
<path d="M1347 112.8 L1351.9 113 L1356.8 113.3 L1361.7 113.5 L1366.6 113.7 L1371.6 114 L1376.5 114.2 L1381.4 114.4 L1386.3 114.6 L1391.2 114.9 L1396.1 115.1 L1401 115.3 L1405.9 115.5 L1410.9 115.7 L1415.8 115.9 L1420.7 116.1 L1425.6 116.3 L1430.5 116.5 L1435.4 116.7 L1440.3 116.9 L1445.2 117 L1450.2 117.2 L1455.1 117.3 L1460 117.5 L1464.9 117.7 L1469.8 117.8 L1474.7 118 L1479.6 118.2 L1484.5 118.4 L1489.4 118.6 L1494.4 118.8 L1499.3 119.1 L1504.2 119.4 L1509.1 119.7 L1514 120 L1518.9 120.4 L1523.8 120.8 L1528.7 121.1 L1533.7 121.5 L1538.6 122 L1543.5 122.4 L1548.4 122.8 L1553.3 123.2 L1558.2 123.6 L1563.1 124 L1568 124.4 L1572.9 124.8 L1577.9 125.1 L1582.8 125.5 L1587.7 125.8 L1592.6 126.2 L1597.5 126.6 L1602.4 127 L1607.3 127.4 L1612.2 127.9 L1617.2 128.5 L1622.1 129.1 L1627 130 L1631.9 130.9 L1636.8 132 L1641.7 133.1 L1646.6 134.2 L1651.5 135.3 L1656.5 136.5 L1661.4 137.6 L1666.3 138.8 L1671.2 140.1 L1676.1 141.4 L1681 142.7 L1685.9 144.1 L1690.8 145.5 L1695.7 147 L1700.7 148.6 L1705.6 150.2 L1710.5 151.9 L1715.4 153.7 L1720.3 155.6 L1725.2 157.5 L1730.1 159.6 L1735 161.6 L1740 163.8 L1744.9 166.2 L1749.8 168.6 L1754.7 171.3 L1759.6 174 L1764.5 176.8 L1769.4 179.7 L1774.3 182.5 L1779.3 185.4 L1784.2 188.3 L1789.1 191.1 L1794 194 L1798.9 196.9 L1803.8 199.9 L1808.7 202.9 L1813.6 205.9 L1818.5 208.9 L1823.5 211.8 L1828.4 214.8 L1833.3 217.8 L1838.2 220.7 L1843.1 223.7 L1848 226.7 L1852.9 229.7 L1857.8 232.6 L1862.8 235.6 L1867.7 238.4 L1872.6 241.3 L1877.5 244.1 L1882.4 246.9 L1887.3 249.6 L1892.2 252.3 L1897.1 255 L1902.1 257.7 L1907 260.3 L1911.9 263 L1916.8 265.5 L1921.7 268.2 L1926.6 270.8 L1931.5 273.5 L1936.4 276.1 L1941.3 278.7 L1946.3 281.2 L1951.2 283.5 L1956.1 285.7 L1961 287.6 L1965.9 289.4 L1970.8 291.2 L1975.7 292.8 L1980.6 294.4 L1985.6 295.9 L1990.5 297.3 L1995.4 298.6 L2000.3 299.8 L2005.2 301 L2010.1 302.1 L2015 303.1 L2019.9 304.1 L2024.8 305.1 L2029.8 306 L2034.7 306.9 L2039.6 307.6 L2044.5 308.2 L2049.4 308.7 L2054.3 309 L2059.2 309.4 L2064.1 309.7 L2069.1 309.9 L2074 310.2 L2078.9 310.4 L2083.8 310.6 L2088.7 310.8 L2093.6 311 L2098.5 311.2 L2103.4 311.3 L2108.4 311.5 L2113.3 311.7 L2118.2 311.8 L2123.1 312 L2128 312.1" fill="none" stroke="#000" stroke-width="7.6" stroke-linecap="round" stroke-linejoin="round"/>
<path d="M1347 140.9 L1351.9 141 L1356.8 141.2 L1361.7 141.3 L1366.6 141.4 L1371.6 141.5 L1376.5 141.6 L1381.4 141.7 L1386.3 141.9 L1391.2 142 L1396.1 142.1 L1401 142.2 L1405.9 142.3 L1410.9 142.4 L1415.8 142.4 L1420.7 142.5 L1425.6 142.6 L1430.5 142.7 L1435.4 142.8 L1440.3 142.9 L1445.2 142.9 L1450.2 143 L1455.1 143.1 L1460 143.2 L1464.9 143.3 L1469.8 143.3 L1474.7 143.4 L1479.6 143.4 L1484.5 143.5 L1489.4 143.5 L1494.4 143.5 L1499.3 143.5 L1504.2 143.5 L1509.1 143.4 L1514 143.4 L1518.9 143.4 L1523.8 143.3 L1528.7 143.2 L1533.7 143.2 L1538.6 143.1 L1543.5 143 L1548.4 142.9 L1553.3 142.8 L1558.2 142.7 L1563.1 142.6 L1568 142.6 L1572.9 142.4 L1577.9 142.3 L1582.8 142.2 L1587.7 142 L1592.6 141.9 L1597.5 141.7 L1602.4 141.6 L1607.3 141.4 L1612.2 141.3 L1617.2 141.2 L1622.1 141.1 L1627 141 L1631.9 140.9 L1636.8 140.9 L1641.7 140.8 L1646.6 140.7 L1651.5 140.6 L1656.5 140.6 L1661.4 140.5 L1666.3 140.5 L1671.2 140.5 L1676.1 140.6 L1681 140.8 L1685.9 141.2 L1690.8 141.6 L1695.7 142.1 L1700.7 142.7 L1705.6 143.4 L1710.5 144.4 L1715.4 145.6 L1720.3 147 L1725.2 148.4 L1730.1 149.8 L1735 151.2 L1740 152.5 L1744.9 153.7 L1749.8 154.9 L1754.7 156.1 L1759.6 157.3 L1764.5 158.5 L1769.4 159.7 L1774.3 161 L1779.3 162.2 L1784.2 163.6 L1789.1 164.9 L1794 166.4 L1798.9 167.8 L1803.8 169.3 L1808.7 170.8 L1813.6 172.3 L1818.5 173.8 L1823.5 175.3 L1828.4 176.8 L1833.3 178.3 L1838.2 179.7 L1843.1 181.2 L1848 182.7 L1852.9 184.1 L1857.8 185.6 L1862.8 187.1 L1867.7 188.6 L1872.6 190 L1877.5 191.5 L1882.4 193 L1887.3 194.4 L1892.2 195.9 L1897.1 197.3 L1902.1 198.8 L1907 200.3 L1911.9 201.8 L1916.8 203.4 L1921.7 205 L1926.6 206.7 L1931.5 208.4 L1936.4 210.1 L1941.3 211.9 L1946.3 213.6 L1951.2 215.4 L1956.1 217.1 L1961 218.8 L1965.9 220.5 L1970.8 222.3 L1975.7 224 L1980.6 225.7 L1985.6 227.4 L1990.5 229.1 L1995.4 230.8 L2000.3 232.5 L2005.2 234.3 L2010.1 236 L2015 237.7 L2019.9 239.4 L2024.8 241.2 L2029.8 242.9 L2034.7 244.6 L2039.6 246.4 L2044.5 248.1 L2049.4 249.8 L2054.3 251.5 L2059.2 253.3 L2064.1 255 L2069.1 256.7 L2074 258.5 L2078.9 260.2 L2083.8 261.9 L2088.7 263.6 L2093.6 265.2 L2098.5 266.9 L2103.4 268.5 L2108.4 270.1 L2113.3 271.6 L2118.2 273.2 L2123.1 274.7 L2128 276.2" fill="none" stroke="#ff0000" stroke-width="7.6" stroke-linecap="round" stroke-linejoin="round"/>
<g fill="#fff" stroke="#000" stroke-width="2.3"><circle cx="2097.4" cy="704" r="13.3"/><circle cx="2083.7" cy="696.3" r="13.3"/><circle cx="2069.9" cy="688.2" r="13.3"/><circle cx="2056.2" cy="680.1" r="13.3"/><circle cx="2042.5" cy="672.5" r="13.3"/><circle cx="2028.8" cy="665.2" r="13.3"/><circle cx="2015" cy="658" r="13.3"/><circle cx="2001.3" cy="650.7" r="13.3"/><circle cx="1987.6" cy="643.5" r="13.3"/><circle cx="1973.8" cy="636.3" r="13.3"/><circle cx="1960.1" cy="629.2" r="13.3"/><circle cx="1946.4" cy="622.3" r="13.3"/><circle cx="1932.7" cy="615.6" r="13.3"/><circle cx="1919" cy="608.9" r="13.3"/><circle cx="1905.2" cy="601.8" r="13.3"/><circle cx="1891.5" cy="594.3" r="13.3"/><circle cx="1877.8" cy="586.8" r="13.3"/><circle cx="1864" cy="580" r="13.3"/><circle cx="1850.3" cy="573.6" r="13.3"/><circle cx="1836.6" cy="567.3" r="13.3"/><circle cx="1822.9" cy="561.1" r="13.3"/><circle cx="1809.2" cy="554.7" r="13.3"/><circle cx="1795.4" cy="548.5" r="13.3"/><circle cx="1781.7" cy="543.2" r="13.3"/><circle cx="1768" cy="537.8" r="13.3"/><circle cx="1754.2" cy="531.6" r="13.3"/><circle cx="1740.5" cy="525.7" r="13.3"/><circle cx="1726.8" cy="521.2" r="13.3"/><circle cx="1713.1" cy="518.8" r="13.3"/><circle cx="1699.3" cy="517" r="13.3"/><circle cx="1685.6" cy="515.5" r="13.3"/><circle cx="1671.9" cy="514.4" r="13.3"/><circle cx="1658.2" cy="513.4" r="13.3"/><circle cx="1644.5" cy="512.6" r="13.3"/><circle cx="1630.7" cy="511.7" r="13.3"/><circle cx="1617" cy="510.9" r="13.3"/><circle cx="1603.3" cy="510.2" r="13.3"/><circle cx="1589.5" cy="509.5" r="13.3"/><circle cx="1575.8" cy="508.9" r="13.3"/><circle cx="1562.1" cy="508.4" r="13.3"/><circle cx="1548.4" cy="507.9" r="13.3"/><circle cx="1534.7" cy="507.4" r="13.3"/><circle cx="1520.9" cy="507" r="13.3"/><circle cx="1507.2" cy="506.5" r="13.3"/><circle cx="1493.5" cy="506.1" r="13.3"/><circle cx="1479.8" cy="505.7" r="13.3"/><circle cx="1466" cy="505.3" r="13.3"/><circle cx="1452.3" cy="505" r="13.3"/><circle cx="1438.6" cy="504.7" r="13.3"/><circle cx="1424.8" cy="504.3" r="13.3"/><circle cx="1411.1" cy="504" r="13.3"/><circle cx="1397.4" cy="503.7" r="13.3"/><circle cx="1383.7" cy="503.4" r="13.3"/><circle cx="1370" cy="503.2" r="13.3"/><circle cx="1356.2" cy="502.9" r="13.3"/><circle cx="1342.5" cy="502.7" r="13.3"/></g>
<g fill="#fff" stroke="#cc2222" stroke-width="1.9"><circle cx="2097.4" cy="624" r="15.3"/><circle cx="2083.7" cy="620.2" r="15.3"/><circle cx="2069.9" cy="616.1" r="15.3"/><circle cx="2056.2" cy="611.9" r="15.3"/><circle cx="2042.5" cy="607.4" r="15.3"/><circle cx="2028.8" cy="602.6" r="15.3"/><circle cx="2015" cy="597.7" r="15.3"/><circle cx="2001.3" cy="592.9" r="15.3"/><circle cx="1987.6" cy="588" r="15.3"/><circle cx="1973.8" cy="583.1" r="15.3"/><circle cx="1960.1" cy="578.4" r="15.3"/><circle cx="1946.4" cy="574.1" r="15.3"/><circle cx="1932.7" cy="570.1" r="15.3"/><circle cx="1919" cy="566.5" r="15.3"/><circle cx="1905.2" cy="563.3" r="15.3"/><circle cx="1891.5" cy="560.3" r="15.3"/><circle cx="1877.8" cy="557.3" r="15.3"/><circle cx="1864" cy="554.1" r="15.3"/><circle cx="1850.3" cy="550.7" r="15.3"/><circle cx="1836.6" cy="547.1" r="15.3"/><circle cx="1822.9" cy="543.4" r="15.3"/><circle cx="1809.2" cy="539.5" r="15.3"/><circle cx="1795.4" cy="535.9" r="15.3"/><circle cx="1781.7" cy="533.6" r="15.3"/><circle cx="1768" cy="532.4" r="15.3"/><circle cx="1754.2" cy="531.8" r="15.3"/><circle cx="1740.5" cy="531.9" r="15.3"/><circle cx="1726.8" cy="532.6" r="15.3"/><circle cx="1713.1" cy="533.5" r="15.3"/><circle cx="1699.3" cy="534.4" r="15.3"/><circle cx="1685.6" cy="535.1" r="15.3"/><circle cx="1671.9" cy="535.8" r="15.3"/><circle cx="1658.2" cy="536.4" r="15.3"/><circle cx="1644.5" cy="537" r="15.3"/><circle cx="1630.7" cy="537.5" r="15.3"/><circle cx="1617" cy="538" r="15.3"/><circle cx="1603.3" cy="538.2" r="15.3"/><circle cx="1589.5" cy="538.3" r="15.3"/><circle cx="1575.8" cy="538.3" r="15.3"/><circle cx="1562.1" cy="538.1" r="15.3"/><circle cx="1548.4" cy="537.8" r="15.3"/><circle cx="1534.7" cy="537.6" r="15.3"/><circle cx="1520.9" cy="537.3" r="15.3"/><circle cx="1507.2" cy="537.2" r="15.3"/><circle cx="1493.5" cy="537" r="15.3"/><circle cx="1479.8" cy="536.8" r="15.3"/><circle cx="1466" cy="536.5" r="15.3"/><circle cx="1452.3" cy="536.2" r="15.3"/><circle cx="1438.6" cy="535.9" r="15.3"/><circle cx="1424.8" cy="535.6" r="15.3"/><circle cx="1411.1" cy="535.4" r="15.3"/><circle cx="1397.4" cy="535.1" r="15.3"/><circle cx="1383.7" cy="534.9" r="15.3"/><circle cx="1370" cy="534.7" r="15.3"/><circle cx="1356.2" cy="534.5" r="15.3"/><circle cx="1342.5" cy="534.3" r="15.3"/></g>
<path d="M1347 502.8 L1351.9 503 L1356.8 503.1 L1361.7 503.3 L1366.6 503.4 L1371.6 503.6 L1376.5 503.7 L1381.4 503.9 L1386.3 504.1 L1391.2 504.2 L1396.1 504.4 L1401 504.6 L1405.9 504.7 L1410.9 504.9 L1415.8 505.1 L1420.7 505.2 L1425.6 505.4 L1430.5 505.6 L1435.4 505.8 L1440.3 505.9 L1445.2 506.1 L1450.2 506.3 L1455.1 506.5 L1460 506.7 L1464.9 506.9 L1469.8 507 L1474.7 507.2 L1479.6 507.4 L1484.5 507.6 L1489.4 507.8 L1494.4 508.1 L1499.3 508.3 L1504.2 508.5 L1509.1 508.7 L1514 508.9 L1518.9 509.2 L1523.8 509.4 L1528.7 509.7 L1533.7 509.9 L1538.6 510.2 L1543.5 510.4 L1548.4 510.7 L1553.3 510.9 L1558.2 511.2 L1563.1 511.5 L1568 511.7 L1572.9 512 L1577.9 512.3 L1582.8 512.6 L1587.7 512.9 L1592.6 513.2 L1597.5 513.5 L1602.4 513.8 L1607.3 514.1 L1612.2 514.5 L1617.2 514.8 L1622.1 515.1 L1627 515.4 L1631.9 515.7 L1636.8 516.1 L1641.7 516.4 L1646.6 516.7 L1651.5 517 L1656.5 517.3 L1661.4 517.6 L1666.3 517.9 L1671.2 518.2 L1676.1 518.6 L1681 518.9 L1685.9 519.3 L1690.8 519.7 L1695.7 520.1 L1700.7 520.6 L1705.6 521.1 L1710.5 521.6 L1715.4 522.2 L1720.3 522.8 L1725.2 523.5 L1730.1 524.2 L1735 524.9 L1740 525.7 L1744.9 526.5 L1749.8 527.4 L1754.7 528.4 L1759.6 529.5 L1764.5 530.6 L1769.4 531.8 L1774.3 533.1 L1779.3 534.4 L1784.2 535.8 L1789.1 537.3 L1794 539 L1798.9 540.9 L1803.8 542.9 L1808.7 544.9 L1813.6 547 L1818.5 549.2 L1823.5 551.4 L1828.4 553.6 L1833.3 555.8 L1838.2 558.1 L1843.1 560.5 L1848 562.9 L1852.9 565.4 L1857.8 567.9 L1862.8 570.5 L1867.7 573.1 L1872.6 575.8 L1877.5 578.5 L1882.4 581.4 L1887.3 584.3 L1892.2 587.4 L1897.1 590.4 L1902.1 593.4 L1907 596.4 L1911.9 599.4 L1916.8 602.3 L1921.7 605.1 L1926.6 607.8 L1931.5 610.5 L1936.4 613.2 L1941.3 615.9 L1946.3 618.6 L1951.2 621.3 L1956.1 624 L1961 626.7 L1965.9 629.4 L1970.8 632.1 L1975.7 634.8 L1980.6 637.5 L1985.6 640.2 L1990.5 642.9 L1995.4 645.5 L2000.3 648.2 L2005.2 650.9 L2010.1 653.6 L2015 656.3 L2019.9 659 L2024.8 661.6 L2029.8 664.3 L2034.7 667 L2039.6 669.7 L2044.5 672.4 L2049.4 675.2 L2054.3 678.1 L2059.2 681 L2064.1 684 L2069.1 687.1 L2074 690.1 L2078.9 693.1 L2083.8 696.1 L2088.7 699 L2093.6 701.8 L2098.5 704.6 L2103.4 707.3 L2108.4 709.9 L2113.3 712.5 L2118.2 715 L2123.1 717.5 L2128 720" fill="none" stroke="#000" stroke-width="7.6" stroke-linecap="round" stroke-linejoin="round"/>
<path d="M1347 534.4 L1351.9 534.5 L1356.8 534.5 L1361.7 534.6 L1366.6 534.6 L1371.6 534.7 L1376.5 534.7 L1381.4 534.8 L1386.3 534.9 L1391.2 534.9 L1396.1 535 L1401 535 L1405.9 535.1 L1410.9 535.1 L1415.8 535.2 L1420.7 535.2 L1425.6 535.3 L1430.5 535.4 L1435.4 535.4 L1440.3 535.5 L1445.2 535.6 L1450.2 535.6 L1455.1 535.7 L1460 535.8 L1464.9 535.9 L1469.8 535.9 L1474.7 536 L1479.6 536 L1484.5 536.1 L1489.4 536.1 L1494.4 536.1 L1499.3 536.1 L1504.2 536.1 L1509.1 536.1 L1514 536 L1518.9 536 L1523.8 535.9 L1528.7 535.9 L1533.7 535.8 L1538.6 535.7 L1543.5 535.7 L1548.4 535.6 L1553.3 535.5 L1558.2 535.4 L1563.1 535.3 L1568 535.3 L1572.9 535.2 L1577.9 535.1 L1582.8 534.9 L1587.7 534.8 L1592.6 534.7 L1597.5 534.5 L1602.4 534.4 L1607.3 534.2 L1612.2 534.1 L1617.2 534 L1622.1 533.8 L1627 533.7 L1631.9 533.6 L1636.8 533.5 L1641.7 533.4 L1646.6 533.3 L1651.5 533.2 L1656.5 533.1 L1661.4 533.1 L1666.3 533 L1671.2 532.9 L1676.1 532.8 L1681 532.7 L1685.9 532.7 L1690.8 532.6 L1695.7 532.5 L1700.7 532.4 L1705.6 532.2 L1710.5 532.1 L1715.4 531.9 L1720.3 531.8 L1725.2 531.7 L1730.1 531.6 L1735 531.5 L1740 531.5 L1744.9 531.5 L1749.8 531.6 L1754.7 531.8 L1759.6 532 L1764.5 532.2 L1769.4 532.4 L1774.3 532.7 L1779.3 533 L1784.2 533.4 L1789.1 533.9 L1794 534.6 L1798.9 535.5 L1803.8 536.5 L1808.7 537.7 L1813.6 538.8 L1818.5 540 L1823.5 541.2 L1828.4 542.3 L1833.3 543.5 L1838.2 544.7 L1843.1 545.9 L1848 547.1 L1852.9 548.4 L1857.8 549.6 L1862.8 550.9 L1867.7 552.2 L1872.6 553.4 L1877.5 554.6 L1882.4 555.8 L1887.3 557 L1892.2 558.2 L1897.1 559.4 L1902.1 560.6 L1907 561.9 L1911.9 563.2 L1916.8 564.5 L1921.7 565.8 L1926.6 567.2 L1931.5 568.6 L1936.4 570.1 L1941.3 571.6 L1946.3 573.1 L1951.2 574.6 L1956.1 576.2 L1961 577.7 L1965.9 579.3 L1970.8 581 L1975.7 582.7 L1980.6 584.5 L1985.6 586.2 L1990.5 588 L1995.4 589.8 L2000.3 591.5 L2005.2 593.3 L2010.1 595 L2015 596.7 L2019.9 598.5 L2024.8 600.3 L2029.8 602 L2034.7 603.7 L2039.6 605.4 L2044.5 607.1 L2049.4 608.7 L2054.3 610.3 L2059.2 611.8 L2064.1 613.4 L2069.1 614.9 L2074 616.3 L2078.9 617.8 L2083.8 619.2 L2088.7 620.6 L2093.6 622 L2098.5 623.3 L2103.4 624.6 L2108.4 625.9 L2113.3 627.2 L2118.2 628.4 L2123.1 629.6 L2128 630.8" fill="none" stroke="#ff0000" stroke-width="7.6" stroke-linecap="round" stroke-linejoin="round"/>
<g fill="#fff" stroke="#000" stroke-width="2.3"><circle cx="2097.4" cy="1123.3" r="13.3"/><circle cx="2083.7" cy="1118.1" r="13.3"/><circle cx="2069.9" cy="1111.5" r="13.3"/><circle cx="2056.2" cy="1104" r="13.3"/><circle cx="2042.5" cy="1096.3" r="13.3"/><circle cx="2028.8" cy="1087.9" r="13.3"/><circle cx="2015" cy="1078.9" r="13.3"/><circle cx="2001.3" cy="1069.9" r="13.3"/><circle cx="1987.6" cy="1061" r="13.3"/><circle cx="1973.8" cy="1052.1" r="13.3"/><circle cx="1960.1" cy="1043.2" r="13.3"/><circle cx="1946.4" cy="1034.2" r="13.3"/><circle cx="1932.7" cy="1025.3" r="13.3"/><circle cx="1919" cy="1016.8" r="13.3"/><circle cx="1905.2" cy="1008.8" r="13.3"/><circle cx="1891.5" cy="1001" r="13.3"/><circle cx="1877.8" cy="993.5" r="13.3"/><circle cx="1864" cy="986.7" r="13.3"/><circle cx="1850.3" cy="980.3" r="13.3"/><circle cx="1836.6" cy="973.9" r="13.3"/><circle cx="1822.9" cy="967.3" r="13.3"/><circle cx="1809.2" cy="960.1" r="13.3"/><circle cx="1795.4" cy="953" r="13.3"/><circle cx="1781.7" cy="946.1" r="13.3"/><circle cx="1768" cy="938.7" r="13.3"/><circle cx="1754.2" cy="931.3" r="13.3"/><circle cx="1740.5" cy="925" r="13.3"/><circle cx="1726.8" cy="920.4" r="13.3"/><circle cx="1713.1" cy="917.8" r="13.3"/><circle cx="1699.3" cy="915.7" r="13.3"/><circle cx="1685.6" cy="913.8" r="13.3"/><circle cx="1671.9" cy="912.1" r="13.3"/><circle cx="1658.2" cy="910.6" r="13.3"/><circle cx="1644.5" cy="909.1" r="13.3"/><circle cx="1630.7" cy="907.7" r="13.3"/><circle cx="1617" cy="906.3" r="13.3"/><circle cx="1603.3" cy="905.1" r="13.3"/><circle cx="1589.5" cy="903.9" r="13.3"/><circle cx="1575.8" cy="902.8" r="13.3"/><circle cx="1562.1" cy="901.8" r="13.3"/><circle cx="1548.4" cy="900.8" r="13.3"/><circle cx="1534.7" cy="899.7" r="13.3"/><circle cx="1520.9" cy="898.7" r="13.3"/><circle cx="1507.2" cy="897.7" r="13.3"/><circle cx="1493.5" cy="896.7" r="13.3"/><circle cx="1479.8" cy="895.7" r="13.3"/><circle cx="1466" cy="894.9" r="13.3"/><circle cx="1452.3" cy="894.1" r="13.3"/><circle cx="1438.6" cy="893.3" r="13.3"/><circle cx="1424.8" cy="892.5" r="13.3"/><circle cx="1411.1" cy="891.7" r="13.3"/><circle cx="1397.4" cy="890.9" r="13.3"/><circle cx="1383.7" cy="890.1" r="13.3"/><circle cx="1370" cy="889.3" r="13.3"/><circle cx="1356.2" cy="888.6" r="13.3"/><circle cx="1342.5" cy="887.9" r="13.3"/></g>
<g fill="#fff" stroke="#cc2222" stroke-width="1.9"><circle cx="2097.4" cy="1044.3" r="15.3"/><circle cx="2083.7" cy="1039.4" r="15.3"/><circle cx="2069.9" cy="1034.7" r="15.3"/><circle cx="2056.2" cy="1030" r="15.3"/><circle cx="2042.5" cy="1024.8" r="15.3"/><circle cx="2028.8" cy="1019.4" r="15.3"/><circle cx="2015" cy="1013.7" r="15.3"/><circle cx="2001.3" cy="1008.2" r="15.3"/><circle cx="1987.6" cy="1002.7" r="15.3"/><circle cx="1973.8" cy="997.2" r="15.3"/><circle cx="1960.1" cy="991.7" r="15.3"/><circle cx="1946.4" cy="986" r="15.3"/><circle cx="1932.7" cy="980.4" r="15.3"/><circle cx="1919" cy="975.2" r="15.3"/><circle cx="1905.2" cy="970.6" r="15.3"/><circle cx="1891.5" cy="966.4" r="15.3"/><circle cx="1877.8" cy="962.5" r="15.3"/><circle cx="1864" cy="958.7" r="15.3"/><circle cx="1850.3" cy="955.2" r="15.3"/><circle cx="1836.6" cy="951.8" r="15.3"/><circle cx="1822.9" cy="948.7" r="15.3"/><circle cx="1809.2" cy="945.5" r="15.3"/><circle cx="1795.4" cy="942.7" r="15.3"/><circle cx="1781.7" cy="940.8" r="15.3"/><circle cx="1768" cy="939.5" r="15.3"/><circle cx="1754.2" cy="938.6" r="15.3"/><circle cx="1740.5" cy="938.1" r="15.3"/><circle cx="1726.8" cy="937.8" r="15.3"/><circle cx="1713.1" cy="937.8" r="15.3"/><circle cx="1699.3" cy="937.7" r="15.3"/><circle cx="1685.6" cy="937.7" r="15.3"/><circle cx="1671.9" cy="937.7" r="15.3"/><circle cx="1658.2" cy="937.7" r="15.3"/><circle cx="1644.5" cy="937.3" r="15.3"/><circle cx="1630.7" cy="936.6" r="15.3"/><circle cx="1617" cy="935.7" r="15.3"/><circle cx="1603.3" cy="934.7" r="15.3"/><circle cx="1589.5" cy="933.8" r="15.3"/><circle cx="1575.8" cy="932.8" r="15.3"/><circle cx="1562.1" cy="931.7" r="15.3"/><circle cx="1548.4" cy="930.3" r="15.3"/><circle cx="1534.7" cy="928.5" r="15.3"/><circle cx="1520.9" cy="926.6" r="15.3"/><circle cx="1507.2" cy="925.1" r="15.3"/><circle cx="1493.5" cy="924" r="15.3"/><circle cx="1479.8" cy="923.1" r="15.3"/><circle cx="1466" cy="922.3" r="15.3"/><circle cx="1452.3" cy="921.5" r="15.3"/><circle cx="1438.6" cy="920.7" r="15.3"/><circle cx="1424.8" cy="919.8" r="15.3"/><circle cx="1411.1" cy="919" r="15.3"/><circle cx="1397.4" cy="918.2" r="15.3"/><circle cx="1383.7" cy="917.4" r="15.3"/><circle cx="1370" cy="916.6" r="15.3"/><circle cx="1356.2" cy="915.8" r="15.3"/><circle cx="1342.5" cy="915" r="15.3"/></g>
<path d="M1347 888.1 L1351.9 888.4 L1356.8 888.6 L1361.7 888.9 L1366.6 889.2 L1371.6 889.4 L1376.5 889.7 L1381.4 890 L1386.3 890.3 L1391.2 890.5 L1396.1 890.8 L1401 891.1 L1405.9 891.4 L1410.9 891.7 L1415.8 891.9 L1420.7 892.2 L1425.6 892.5 L1430.5 892.8 L1435.4 893.1 L1440.3 893.4 L1445.2 893.7 L1450.2 893.9 L1455.1 894.2 L1460 894.5 L1464.9 894.8 L1469.8 895.1 L1474.7 895.4 L1479.6 895.7 L1484.5 896 L1489.4 896.4 L1494.4 896.7 L1499.3 897.1 L1504.2 897.5 L1509.1 897.8 L1514 898.2 L1518.9 898.7 L1523.8 899.1 L1528.7 899.5 L1533.7 900 L1538.6 900.4 L1543.5 900.9 L1548.4 901.3 L1553.3 901.8 L1558.2 902.3 L1563.1 902.8 L1568 903.2 L1572.9 903.7 L1577.9 904.2 L1582.8 904.8 L1587.7 905.3 L1592.6 905.8 L1597.5 906.4 L1602.4 906.9 L1607.3 907.5 L1612.2 908.1 L1617.2 908.6 L1622.1 909.2 L1627 909.8 L1631.9 910.4 L1636.8 911 L1641.7 911.6 L1646.6 912.2 L1651.5 912.9 L1656.5 913.5 L1661.4 914.1 L1666.3 914.8 L1671.2 915.4 L1676.1 916.1 L1681 916.8 L1685.9 917.5 L1690.8 918.3 L1695.7 919 L1700.7 919.8 L1705.6 920.5 L1710.5 921.3 L1715.4 922.1 L1720.3 923 L1725.2 923.9 L1730.1 924.8 L1735 925.8 L1740 926.9 L1744.9 928 L1749.8 929.3 L1754.7 930.7 L1759.6 932.2 L1764.5 933.7 L1769.4 935.3 L1774.3 936.9 L1779.3 938.6 L1784.2 940.2 L1789.1 942 L1794 943.7 L1798.9 945.6 L1803.8 947.5 L1808.7 949.4 L1813.6 951.5 L1818.5 953.6 L1823.5 955.8 L1828.4 958 L1833.3 960.4 L1838.2 962.9 L1843.1 965.5 L1848 968.2 L1852.9 971 L1857.8 973.8 L1862.8 976.7 L1867.7 979.5 L1872.6 982.4 L1877.5 985.2 L1882.4 988.1 L1887.3 991 L1892.2 993.9 L1897.1 996.9 L1902.1 999.9 L1907 1002.9 L1911.9 1005.9 L1916.8 1009 L1921.7 1012.1 L1926.6 1015.2 L1931.5 1018.4 L1936.4 1021.6 L1941.3 1024.9 L1946.3 1028.1 L1951.2 1031.3 L1956.1 1034.6 L1961 1037.8 L1965.9 1041 L1970.8 1044.1 L1975.7 1047.3 L1980.6 1050.5 L1985.6 1053.7 L1990.5 1056.9 L1995.4 1060.1 L2000.3 1063.2 L2005.2 1066.4 L2010.1 1069.7 L2015 1072.9 L2019.9 1076.2 L2024.8 1079.5 L2029.8 1082.7 L2034.7 1086 L2039.6 1089.1 L2044.5 1092.2 L2049.4 1095.2 L2054.3 1098.2 L2059.2 1101.1 L2064.1 1104.1 L2069.1 1107 L2074 1109.8 L2078.9 1112.5 L2083.8 1115.1 L2088.7 1117.4 L2093.6 1119.6 L2098.5 1121.6 L2103.4 1123.5 L2108.4 1125.3 L2113.3 1127 L2118.2 1128.5 L2123.1 1130 L2128 1131.3" fill="none" stroke="#000" stroke-width="7.6" stroke-linecap="round" stroke-linejoin="round"/>
<path d="M1347 915.3 L1351.9 915.6 L1356.8 915.9 L1361.7 916.1 L1366.6 916.4 L1371.6 916.7 L1376.5 917 L1381.4 917.2 L1386.3 917.5 L1391.2 917.8 L1396.1 918 L1401 918.3 L1405.9 918.6 L1410.9 918.8 L1415.8 919.1 L1420.7 919.4 L1425.6 919.6 L1430.5 919.9 L1435.4 920.1 L1440.3 920.4 L1445.2 920.6 L1450.2 920.9 L1455.1 921.1 L1460 921.4 L1464.9 921.6 L1469.8 921.8 L1474.7 922.1 L1479.6 922.4 L1484.5 922.6 L1489.4 922.9 L1494.4 923.1 L1499.3 923.4 L1504.2 923.7 L1509.1 924 L1514 924.3 L1518.9 924.6 L1523.8 924.9 L1528.7 925.2 L1533.7 925.5 L1538.6 925.8 L1543.5 926.1 L1548.4 926.4 L1553.3 926.7 L1558.2 927 L1563.1 927.3 L1568 927.7 L1572.9 928 L1577.9 928.3 L1582.8 928.6 L1587.7 928.9 L1592.6 929.2 L1597.5 929.5 L1602.4 929.8 L1607.3 930.1 L1612.2 930.4 L1617.2 930.7 L1622.1 931 L1627 931.4 L1631.9 931.7 L1636.8 932 L1641.7 932.3 L1646.6 932.6 L1651.5 933 L1656.5 933.3 L1661.4 933.6 L1666.3 934 L1671.2 934.3 L1676.1 934.6 L1681 934.9 L1685.9 935.1 L1690.8 935.4 L1695.7 935.5 L1700.7 935.7 L1705.6 935.8 L1710.5 935.9 L1715.4 936 L1720.3 936.1 L1725.2 936.2 L1730.1 936.3 L1735 936.5 L1740 936.6 L1744.9 936.9 L1749.8 937.1 L1754.7 937.4 L1759.6 937.8 L1764.5 938.1 L1769.4 938.5 L1774.3 939 L1779.3 939.5 L1784.2 940 L1789.1 940.7 L1794 941.4 L1798.9 942.4 L1803.8 943.4 L1808.7 944.4 L1813.6 945.6 L1818.5 946.7 L1823.5 947.8 L1828.4 948.9 L1833.3 950.1 L1838.2 951.2 L1843.1 952.4 L1848 953.6 L1852.9 954.8 L1857.8 956.1 L1862.8 957.4 L1867.7 958.7 L1872.6 960 L1877.5 961.4 L1882.4 962.8 L1887.3 964.2 L1892.2 965.6 L1897.1 967.1 L1902.1 968.6 L1907 970.1 L1911.9 971.7 L1916.8 973.4 L1921.7 975.1 L1926.6 977 L1931.5 978.9 L1936.4 980.9 L1941.3 982.9 L1946.3 985 L1951.2 987 L1956.1 989 L1961 991 L1965.9 993 L1970.8 995 L1975.7 996.9 L1980.6 998.9 L1985.6 1000.9 L1990.5 1002.8 L1995.4 1004.8 L2000.3 1006.8 L2005.2 1008.8 L2010.1 1010.7 L2015 1012.7 L2019.9 1014.8 L2024.8 1016.8 L2029.8 1018.8 L2034.7 1020.8 L2039.6 1022.7 L2044.5 1024.6 L2049.4 1026.5 L2054.3 1028.3 L2059.2 1030 L2064.1 1031.8 L2069.1 1033.4 L2074 1035.1 L2078.9 1036.8 L2083.8 1038.4 L2088.7 1040.2 L2093.6 1041.9 L2098.5 1043.7 L2103.4 1045.6 L2108.4 1047.4 L2113.3 1049.3 L2118.2 1051.2 L2123.1 1053.1 L2128 1055" fill="none" stroke="#ff0000" stroke-width="7.6" stroke-linecap="round" stroke-linejoin="round"/>
<path d="M219.2 423L219.2 412.5M219.2 38L219.2 48.5M228.3 423L228.3 412.5M228.3 38L228.3 48.5M236.2 423L236.2 412.5M236.2 38L236.2 48.5M243.1 423L243.1 412.5M243.1 38L243.1 48.5M290.1 423L290.1 412.5M290.1 38L290.1 48.5M314 423L314 412.5M314 38L314 48.5M331 423L331 412.5M331 38L331 48.5M344.1 423L344.1 412.5M344.1 38L344.1 48.5M354.9 423L354.9 412.5M354.9 38L354.9 48.5M363.9 423L363.9 412.5M363.9 38L363.9 48.5M371.8 423L371.8 412.5M371.8 38L371.8 48.5M378.7 423L378.7 412.5M378.7 38L378.7 48.5M425.8 423L425.8 412.5M425.8 38L425.8 48.5M449.7 423L449.7 412.5M449.7 38L449.7 48.5M466.6 423L466.6 412.5M466.6 38L466.6 48.5M479.8 423L479.8 412.5M479.8 38L479.8 48.5M490.5 423L490.5 412.5M490.5 38L490.5 48.5M499.6 423L499.6 412.5M499.6 38L499.6 48.5M507.5 423L507.5 412.5M507.5 38L507.5 48.5M514.4 423L514.4 412.5M514.4 38L514.4 48.5M561.4 423L561.4 412.5M561.4 38L561.4 48.5M585.3 423L585.3 412.5M585.3 38L585.3 48.5M602.3 423L602.3 412.5M602.3 38L602.3 48.5M615.4 423L615.4 412.5M615.4 38L615.4 48.5M626.2 423L626.2 412.5M626.2 38L626.2 48.5M635.2 423L635.2 412.5M635.2 38L635.2 48.5M643.1 423L643.1 412.5M643.1 38L643.1 48.5M650 423L650 412.5M650 38L650 48.5M697.1 423L697.1 412.5M697.1 38L697.1 48.5M721 423L721 412.5M721 38L721 48.5M737.9 423L737.9 412.5M737.9 38L737.9 48.5M751.1 423L751.1 412.5M751.1 38L751.1 48.5M761.8 423L761.8 412.5M761.8 38L761.8 48.5M770.9 423L770.9 412.5M770.9 38L770.9 48.5M778.8 423L778.8 412.5M778.8 38L778.8 48.5M785.7 423L785.7 412.5M785.7 38L785.7 48.5M832.7 423L832.7 412.5M832.7 38L832.7 48.5M856.6 423L856.6 412.5M856.6 38L856.6 48.5M873.6 423L873.6 412.5M873.6 38L873.6 48.5M886.7 423L886.7 412.5M886.7 38L886.7 48.5M897.5 423L897.5 412.5M897.5 38L897.5 48.5M906.5 423L906.5 412.5M906.5 38L906.5 48.5M914.4 423L914.4 412.5M914.4 38L914.4 48.5M921.3 423L921.3 412.5M921.3 38L921.3 48.5M968.4 423L968.4 412.5M968.4 38L968.4 48.5M992.3 423L992.3 412.5M992.3 38L992.3 48.5M1009.2 423L1009.2 412.5M1009.2 38L1009.2 48.5M208.6 411.7L219.6 411.7M1022.5 411.7L1011.5 411.7M208.6 403.1L219.6 403.1M1022.5 403.1L1011.5 403.1M208.6 397L219.6 397M1022.5 397L1011.5 397M208.6 392.2L219.6 392.2M1022.5 392.2L1011.5 392.2M208.6 388.4L219.6 388.4M1022.5 388.4L1011.5 388.4M208.6 385.1L219.6 385.1M1022.5 385.1L1011.5 385.1M208.6 382.3L219.6 382.3M1022.5 382.3L1011.5 382.3M208.6 379.8L219.6 379.8M1022.5 379.8L1011.5 379.8M208.6 362.8L219.6 362.8M1022.5 362.8L1011.5 362.8M208.6 354.2L219.6 354.2M1022.5 354.2L1011.5 354.2M208.6 348.1L219.6 348.1M1022.5 348.1L1011.5 348.1M208.6 343.4L219.6 343.4M1022.5 343.4L1011.5 343.4M208.6 339.5L219.6 339.5M1022.5 339.5L1011.5 339.5M208.6 336.2L219.6 336.2M1022.5 336.2L1011.5 336.2M208.6 333.4L219.6 333.4M1022.5 333.4L1011.5 333.4M208.6 330.9L219.6 330.9M1022.5 330.9L1011.5 330.9M208.6 313.9L219.6 313.9M1022.5 313.9L1011.5 313.9M208.6 305.3L219.6 305.3M1022.5 305.3L1011.5 305.3M208.6 299.2L219.6 299.2M1022.5 299.2L1011.5 299.2M208.6 294.5L219.6 294.5M1022.5 294.5L1011.5 294.5M208.6 290.6L219.6 290.6M1022.5 290.6L1011.5 290.6M208.6 287.4L219.6 287.4M1022.5 287.4L1011.5 287.4M208.6 284.5L219.6 284.5M1022.5 284.5L1011.5 284.5M208.6 282L219.6 282M1022.5 282L1011.5 282M208.6 265.1L219.6 265.1M1022.5 265.1L1011.5 265.1M208.6 256.5L219.6 256.5M1022.5 256.5L1011.5 256.5M208.6 250.4L219.6 250.4M1022.5 250.4L1011.5 250.4M208.6 245.6L219.6 245.6M1022.5 245.6L1011.5 245.6M208.6 241.8L219.6 241.8M1022.5 241.8L1011.5 241.8M208.6 238.5L219.6 238.5M1022.5 238.5L1011.5 238.5M208.6 235.7L219.6 235.7M1022.5 235.7L1011.5 235.7M208.6 233.2L219.6 233.2M1022.5 233.2L1011.5 233.2M208.6 216.2L219.6 216.2M1022.5 216.2L1011.5 216.2M208.6 207.6L219.6 207.6M1022.5 207.6L1011.5 207.6M208.6 201.5L219.6 201.5M1022.5 201.5L1011.5 201.5M208.6 196.8L219.6 196.8M1022.5 196.8L1011.5 196.8M208.6 192.9L219.6 192.9M1022.5 192.9L1011.5 192.9M208.6 189.6L219.6 189.6M1022.5 189.6L1011.5 189.6M208.6 186.8L219.6 186.8M1022.5 186.8L1011.5 186.8M208.6 184.3L219.6 184.3M1022.5 184.3L1011.5 184.3M208.6 167.3L219.6 167.3M1022.5 167.3L1011.5 167.3M208.6 158.7L219.6 158.7M1022.5 158.7L1011.5 158.7M208.6 152.6L219.6 152.6M1022.5 152.6L1011.5 152.6M208.6 147.9L219.6 147.9M1022.5 147.9L1011.5 147.9M208.6 144L219.6 144M1022.5 144L1011.5 144M208.6 140.8L219.6 140.8M1022.5 140.8L1011.5 140.8M208.6 137.9L219.6 137.9M1022.5 137.9L1011.5 137.9M208.6 135.4L219.6 135.4M1022.5 135.4L1011.5 135.4M208.6 118.5L219.6 118.5M1022.5 118.5L1011.5 118.5M208.6 109.9L219.6 109.9M1022.5 109.9L1011.5 109.9M208.6 103.8L219.6 103.8M1022.5 103.8L1011.5 103.8M208.6 99L219.6 99M1022.5 99L1011.5 99M208.6 95.2L219.6 95.2M1022.5 95.2L1011.5 95.2M208.6 91.9L219.6 91.9M1022.5 91.9L1011.5 91.9M208.6 89L219.6 89M1022.5 89L1011.5 89M208.6 86.5L219.6 86.5M1022.5 86.5L1011.5 86.5M208.6 69.6L219.6 69.6M1022.5 69.6L1011.5 69.6M208.6 61L219.6 61M1022.5 61L1011.5 61M208.6 54.9L219.6 54.9M1022.5 54.9L1011.5 54.9M208.6 50.2L219.6 50.2M1022.5 50.2L1011.5 50.2M208.6 46.3L219.6 46.3M1022.5 46.3L1011.5 46.3M208.6 43L219.6 43M1022.5 43L1011.5 43M208.6 40.2L219.6 40.2M1022.5 40.2L1011.5 40.2M219.2 807.6L219.2 797.1M228.3 807.6L228.3 797.1M236.2 807.6L236.2 797.1M243.1 807.6L243.1 797.1M290.1 807.6L290.1 797.1M314 807.6L314 797.1M331 807.6L331 797.1M344.1 807.6L344.1 797.1M354.9 807.6L354.9 797.1M363.9 807.6L363.9 797.1M371.8 807.6L371.8 797.1M378.7 807.6L378.7 797.1M425.8 807.6L425.8 797.1M449.7 807.6L449.7 797.1M466.6 807.6L466.6 797.1M479.8 807.6L479.8 797.1M490.5 807.6L490.5 797.1M499.6 807.6L499.6 797.1M507.5 807.6L507.5 797.1M514.4 807.6L514.4 797.1M561.4 807.6L561.4 797.1M585.3 807.6L585.3 797.1M602.3 807.6L602.3 797.1M615.4 807.6L615.4 797.1M626.2 807.6L626.2 797.1M635.2 807.6L635.2 797.1M643.1 807.6L643.1 797.1M650 807.6L650 797.1M697.1 807.6L697.1 797.1M721 807.6L721 797.1M737.9 807.6L737.9 797.1M751.1 807.6L751.1 797.1M761.8 807.6L761.8 797.1M770.9 807.6L770.9 797.1M778.8 807.6L778.8 797.1M785.7 807.6L785.7 797.1M832.7 807.6L832.7 797.1M856.6 807.6L856.6 797.1M873.6 807.6L873.6 797.1M886.7 807.6L886.7 797.1M897.5 807.6L897.5 797.1M906.5 807.6L906.5 797.1M914.4 807.6L914.4 797.1M921.3 807.6L921.3 797.1M968.4 807.6L968.4 797.1M992.3 807.6L992.3 797.1M1009.2 807.6L1009.2 797.1M208.6 792L219.6 792M1022.5 792L1011.5 792M208.6 781.1L219.6 781.1M1022.5 781.1L1011.5 781.1M208.6 773.3L219.6 773.3M1022.5 773.3L1011.5 773.3M208.6 767.3L219.6 767.3M1022.5 767.3L1011.5 767.3M208.6 762.4L219.6 762.4M1022.5 762.4L1011.5 762.4M208.6 758.3L219.6 758.3M1022.5 758.3L1011.5 758.3M208.6 754.7L219.6 754.7M1022.5 754.7L1011.5 754.7M208.6 751.6L219.6 751.6M1022.5 751.6L1011.5 751.6M208.6 730.1L219.6 730.1M1022.5 730.1L1011.5 730.1M208.6 719.2L219.6 719.2M1022.5 719.2L1011.5 719.2M208.6 711.5L219.6 711.5M1022.5 711.5L1011.5 711.5M208.6 705.5L219.6 705.5M1022.5 705.5L1011.5 705.5M208.6 700.6L219.6 700.6M1022.5 700.6L1011.5 700.6M208.6 696.4L219.6 696.4M1022.5 696.4L1011.5 696.4M208.6 692.8L219.6 692.8M1022.5 692.8L1011.5 692.8M208.6 689.7L219.6 689.7M1022.5 689.7L1011.5 689.7M208.6 668.2L219.6 668.2M1022.5 668.2L1011.5 668.2M208.6 657.3L219.6 657.3M1022.5 657.3L1011.5 657.3M208.6 649.6L219.6 649.6M1022.5 649.6L1011.5 649.6M208.6 643.6L219.6 643.6M1022.5 643.6L1011.5 643.6M208.6 638.7L219.6 638.7M1022.5 638.7L1011.5 638.7M208.6 634.5L219.6 634.5M1022.5 634.5L1011.5 634.5M208.6 631L219.6 631M1022.5 631L1011.5 631M208.6 627.8L219.6 627.8M1022.5 627.8L1011.5 627.8M208.6 606.3L219.6 606.3M1022.5 606.3L1011.5 606.3M208.6 595.4L219.6 595.4M1022.5 595.4L1011.5 595.4M208.6 587.7L219.6 587.7M1022.5 587.7L1011.5 587.7M208.6 581.7L219.6 581.7M1022.5 581.7L1011.5 581.7M208.6 576.8L219.6 576.8M1022.5 576.8L1011.5 576.8M208.6 572.7L219.6 572.7M1022.5 572.7L1011.5 572.7M208.6 569.1L219.6 569.1M1022.5 569.1L1011.5 569.1M208.6 565.9L219.6 565.9M1022.5 565.9L1011.5 565.9M208.6 544.5L219.6 544.5M1022.5 544.5L1011.5 544.5M208.6 533.6L219.6 533.6M1022.5 533.6L1011.5 533.6M208.6 525.8L219.6 525.8M1022.5 525.8L1011.5 525.8M208.6 519.8L219.6 519.8M1022.5 519.8L1011.5 519.8M208.6 514.9L219.6 514.9M1022.5 514.9L1011.5 514.9M208.6 510.8L219.6 510.8M1022.5 510.8L1011.5 510.8M208.6 507.2L219.6 507.2M1022.5 507.2L1011.5 507.2M208.6 504L219.6 504M1022.5 504L1011.5 504M208.6 482.6L219.6 482.6M1022.5 482.6L1011.5 482.6M208.6 471.7L219.6 471.7M1022.5 471.7L1011.5 471.7M208.6 463.9L219.6 463.9M1022.5 463.9L1011.5 463.9M208.6 457.9L219.6 457.9M1022.5 457.9L1011.5 457.9M208.6 453L219.6 453M1022.5 453L1011.5 453M208.6 448.9L219.6 448.9M1022.5 448.9L1011.5 448.9M208.6 445.3L219.6 445.3M1022.5 445.3L1011.5 445.3M208.6 442.2L219.6 442.2M1022.5 442.2L1011.5 442.2M219.2 1192L219.2 1181.5M228.3 1192L228.3 1181.5M236.2 1192L236.2 1181.5M243.1 1192L243.1 1181.5M290.1 1192L290.1 1181.5M314 1192L314 1181.5M331 1192L331 1181.5M344.1 1192L344.1 1181.5M354.9 1192L354.9 1181.5M363.9 1192L363.9 1181.5M371.8 1192L371.8 1181.5M378.7 1192L378.7 1181.5M425.8 1192L425.8 1181.5M449.7 1192L449.7 1181.5M466.6 1192L466.6 1181.5M479.8 1192L479.8 1181.5M490.5 1192L490.5 1181.5M499.6 1192L499.6 1181.5M507.5 1192L507.5 1181.5M514.4 1192L514.4 1181.5M561.4 1192L561.4 1181.5M585.3 1192L585.3 1181.5M602.3 1192L602.3 1181.5M615.4 1192L615.4 1181.5M626.2 1192L626.2 1181.5M635.2 1192L635.2 1181.5M643.1 1192L643.1 1181.5M650 1192L650 1181.5M697.1 1192L697.1 1181.5M721 1192L721 1181.5M737.9 1192L737.9 1181.5M751.1 1192L751.1 1181.5M761.8 1192L761.8 1181.5M770.9 1192L770.9 1181.5M778.8 1192L778.8 1181.5M785.7 1192L785.7 1181.5M832.7 1192L832.7 1181.5M856.6 1192L856.6 1181.5M873.6 1192L873.6 1181.5M886.7 1192L886.7 1181.5M897.5 1192L897.5 1181.5M906.5 1192L906.5 1181.5M914.4 1192L914.4 1181.5M921.3 1192L921.3 1181.5M968.4 1192L968.4 1181.5M992.3 1192L992.3 1181.5M1009.2 1192L1009.2 1181.5M208.6 1169.5L219.6 1169.5M1022.5 1169.5L1011.5 1169.5M208.6 1155.9L219.6 1155.9M1022.5 1155.9L1011.5 1155.9M208.6 1146.2L219.6 1146.2M1022.5 1146.2L1011.5 1146.2M208.6 1138.7L219.6 1138.7M1022.5 1138.7L1011.5 1138.7M208.6 1132.6L219.6 1132.6M1022.5 1132.6L1011.5 1132.6M208.6 1127.4L219.6 1127.4M1022.5 1127.4L1011.5 1127.4M208.6 1123L219.6 1123M1022.5 1123L1011.5 1123M208.6 1119L219.6 1119M1022.5 1119L1011.5 1119M208.6 1092.2L219.6 1092.2M1022.5 1092.2L1011.5 1092.2M208.6 1078.6L219.6 1078.6M1022.5 1078.6L1011.5 1078.6M208.6 1069L219.6 1069M1022.5 1069L1011.5 1069M208.6 1061.5L219.6 1061.5M1022.5 1061.5L1011.5 1061.5M208.6 1055.4L219.6 1055.4M1022.5 1055.4L1011.5 1055.4M208.6 1050.2L219.6 1050.2M1022.5 1050.2L1011.5 1050.2M208.6 1045.7L219.6 1045.7M1022.5 1045.7L1011.5 1045.7M208.6 1041.8L219.6 1041.8M1022.5 1041.8L1011.5 1041.8M208.6 1015L219.6 1015M1022.5 1015L1011.5 1015M208.6 1001.4L219.6 1001.4M1022.5 1001.4L1011.5 1001.4M208.6 991.7L219.6 991.7M1022.5 991.7L1011.5 991.7M208.6 984.3L219.6 984.3M1022.5 984.3L1011.5 984.3M208.6 978.1L219.6 978.1M1022.5 978.1L1011.5 978.1M208.6 973L219.6 973M1022.5 973L1011.5 973M208.6 968.5L219.6 968.5M1022.5 968.5L1011.5 968.5M208.6 964.5L219.6 964.5M1022.5 964.5L1011.5 964.5M208.6 937.8L219.6 937.8M1022.5 937.8L1011.5 937.8M208.6 924.2L219.6 924.2M1022.5 924.2L1011.5 924.2M208.6 914.5L219.6 914.5M1022.5 914.5L1011.5 914.5M208.6 907L219.6 907M1022.5 907L1011.5 907M208.6 900.9L219.6 900.9M1022.5 900.9L1011.5 900.9M208.6 895.7L219.6 895.7M1022.5 895.7L1011.5 895.7M208.6 891.3L219.6 891.3M1022.5 891.3L1011.5 891.3M208.6 887.3L219.6 887.3M1022.5 887.3L1011.5 887.3M208.6 860.5L219.6 860.5M1022.5 860.5L1011.5 860.5M208.6 846.9L219.6 846.9M1022.5 846.9L1011.5 846.9M208.6 837.3L219.6 837.3M1022.5 837.3L1011.5 837.3M208.6 829.8L219.6 829.8M1022.5 829.8L1011.5 829.8M208.6 823.7L219.6 823.7M1022.5 823.7L1011.5 823.7M208.6 818.5L219.6 818.5M1022.5 818.5L1011.5 818.5M208.6 814L219.6 814M1022.5 814L1011.5 814M208.6 810.1L219.6 810.1M1022.5 810.1L1011.5 810.1" stroke="#000" stroke-width="3.6" fill="none"/>
<path d="M249.3 423L249.3 403.5M249.3 38L249.3 57.5M385 423L385 403.5M385 38L385 57.5M520.6 423L520.6 403.5M520.6 38L520.6 57.5M656.2 423L656.2 403.5M656.2 38L656.2 57.5M791.9 423L791.9 403.5M791.9 38L791.9 57.5M927.5 423L927.5 403.5M927.5 38L927.5 57.5M208.6 377.5L228.6 377.5M1022.5 377.5L1002.5 377.5M208.6 328.7L228.6 328.7M1022.5 328.7L1002.5 328.7M208.6 279.8L228.6 279.8M1022.5 279.8L1002.5 279.8M208.6 230.9L228.6 230.9M1022.5 230.9L1002.5 230.9M208.6 182L228.6 182M1022.5 182L1002.5 182M208.6 133.2L228.6 133.2M1022.5 133.2L1002.5 133.2M208.6 84.3L228.6 84.3M1022.5 84.3L1002.5 84.3M249.3 807.6L249.3 788.1M385 807.6L385 788.1M520.6 807.6L520.6 788.1M656.2 807.6L656.2 788.1M791.9 807.6L791.9 788.1M927.5 807.6L927.5 788.1M208.6 748.7L228.6 748.7M1022.5 748.7L1002.5 748.7M208.6 686.8L228.6 686.8M1022.5 686.8L1002.5 686.8M208.6 625L228.6 625M1022.5 625L1002.5 625M208.6 563.1L228.6 563.1M1022.5 563.1L1002.5 563.1M208.6 501.2L228.6 501.2M1022.5 501.2L1002.5 501.2M208.6 439.3L228.6 439.3M1022.5 439.3L1002.5 439.3M249.3 1192L249.3 1172.5M385 1192L385 1172.5M520.6 1192L520.6 1172.5M656.2 1192L656.2 1172.5M791.9 1192L791.9 1172.5M927.5 1192L927.5 1172.5M208.6 1115.5L228.6 1115.5M1022.5 1115.5L1002.5 1115.5M208.6 1038.2L228.6 1038.2M1022.5 1038.2L1002.5 1038.2M208.6 961L228.6 961M1022.5 961L1002.5 961M208.6 883.8L228.6 883.8M1022.5 883.8L1002.5 883.8" stroke="#000" stroke-width="3.9" fill="none"/>
<rect x="208.6" y="38" width="813.9" height="385" fill="none" stroke="#000" stroke-width="5.0"/>
<rect x="208.6" y="423" width="813.9" height="384.6" fill="none" stroke="#000" stroke-width="5.0"/>
<rect x="208.6" y="807.6" width="813.9" height="384.4" fill="none" stroke="#000" stroke-width="5.0"/>
<path d="M1316.1 427.6L1316.1 417.1M1316.1 39.4L1316.1 49.9M1325.2 427.6L1325.2 417.1M1325.2 39.4L1325.2 49.9M1333.2 427.6L1333.2 417.1M1333.2 39.4L1333.2 49.9M1340.2 427.6L1340.2 417.1M1340.2 39.4L1340.2 49.9M1387.8 427.6L1387.8 417.1M1387.8 39.4L1387.8 49.9M1412 427.6L1412 417.1M1412 39.4L1412 49.9M1429.1 427.6L1429.1 417.1M1429.1 39.4L1429.1 49.9M1442.4 427.6L1442.4 417.1M1442.4 39.4L1442.4 49.9M1453.3 427.6L1453.3 417.1M1453.3 39.4L1453.3 49.9M1462.5 427.6L1462.5 417.1M1462.5 39.4L1462.5 49.9M1470.4 427.6L1470.4 417.1M1470.4 39.4L1470.4 49.9M1477.5 427.6L1477.5 417.1M1477.5 39.4L1477.5 49.9M1525.1 427.6L1525.1 417.1M1525.1 39.4L1525.1 49.9M1549.2 427.6L1549.2 417.1M1549.2 39.4L1549.2 49.9M1566.4 427.6L1566.4 417.1M1566.4 39.4L1566.4 49.9M1579.7 427.6L1579.7 417.1M1579.7 39.4L1579.7 49.9M1590.6 427.6L1590.6 417.1M1590.6 39.4L1590.6 49.9M1599.7 427.6L1599.7 417.1M1599.7 39.4L1599.7 49.9M1607.7 427.6L1607.7 417.1M1607.7 39.4L1607.7 49.9M1614.7 427.6L1614.7 417.1M1614.7 39.4L1614.7 49.9M1662.3 427.6L1662.3 417.1M1662.3 39.4L1662.3 49.9M1686.5 427.6L1686.5 417.1M1686.5 39.4L1686.5 49.9M1703.6 427.6L1703.6 417.1M1703.6 39.4L1703.6 49.9M1716.9 427.6L1716.9 417.1M1716.9 39.4L1716.9 49.9M1727.8 427.6L1727.8 417.1M1727.8 39.4L1727.8 49.9M1737 427.6L1737 417.1M1737 39.4L1737 49.9M1744.9 427.6L1744.9 417.1M1744.9 39.4L1744.9 49.9M1752 427.6L1752 417.1M1752 39.4L1752 49.9M1799.6 427.6L1799.6 417.1M1799.6 39.4L1799.6 49.9M1823.7 427.6L1823.7 417.1M1823.7 39.4L1823.7 49.9M1840.9 427.6L1840.9 417.1M1840.9 39.4L1840.9 49.9M1854.2 427.6L1854.2 417.1M1854.2 39.4L1854.2 49.9M1865.1 427.6L1865.1 417.1M1865.1 39.4L1865.1 49.9M1874.2 427.6L1874.2 417.1M1874.2 39.4L1874.2 49.9M1882.2 427.6L1882.2 417.1M1882.2 39.4L1882.2 49.9M1889.2 427.6L1889.2 417.1M1889.2 39.4L1889.2 49.9M1936.8 427.6L1936.8 417.1M1936.8 39.4L1936.8 49.9M1961 427.6L1961 417.1M1961 39.4L1961 49.9M1978.1 427.6L1978.1 417.1M1978.1 39.4L1978.1 49.9M1991.4 427.6L1991.4 417.1M1991.4 39.4L1991.4 49.9M2002.3 427.6L2002.3 417.1M2002.3 39.4L2002.3 49.9M2011.5 427.6L2011.5 417.1M2011.5 39.4L2011.5 49.9M2019.4 427.6L2019.4 417.1M2019.4 39.4L2019.4 49.9M2026.5 427.6L2026.5 417.1M2026.5 39.4L2026.5 49.9M2074.1 427.6L2074.1 417.1M2074.1 39.4L2074.1 49.9M2098.2 427.6L2098.2 417.1M2098.2 39.4L2098.2 49.9M2115.4 427.6L2115.4 417.1M2115.4 39.4L2115.4 49.9M1305 423.6L1316 423.6M2129 423.6L2118 423.6M1305 420.9L1316 420.9M2129 420.9L2118 420.9M1305 418.5L1316 418.5M2129 418.5L2118 418.5M1305 402.5L1316 402.5M2129 402.5L2118 402.5M1305 394.4L1316 394.4M2129 394.4L2118 394.4M1305 388.6L1316 388.6M2129 388.6L2118 388.6M1305 384.1L1316 384.1M2129 384.1L2118 384.1M1305 380.4L1316 380.4M2129 380.4L2118 380.4M1305 377.4L1316 377.4M2129 377.4L2118 377.4M1305 374.7L1316 374.7M2129 374.7L2118 374.7M1305 372.3L1316 372.3M2129 372.3L2118 372.3M1305 356.3L1316 356.3M2129 356.3L2118 356.3M1305 348.2L1316 348.2M2129 348.2L2118 348.2M1305 342.4L1316 342.4M2129 342.4L2118 342.4M1305 337.9L1316 337.9M2129 337.9L2118 337.9M1305 334.2L1316 334.2M2129 334.2L2118 334.2M1305 331.2L1316 331.2M2129 331.2L2118 331.2M1305 328.5L1316 328.5M2129 328.5L2118 328.5M1305 326.1L1316 326.1M2129 326.1L2118 326.1M1305 310.1L1316 310.1M2129 310.1L2118 310.1M1305 302L1316 302M2129 302L2118 302M1305 296.2L1316 296.2M2129 296.2L2118 296.2M1305 291.7L1316 291.7M2129 291.7L2118 291.7M1305 288L1316 288M2129 288L2118 288M1305 285L1316 285M2129 285L2118 285M1305 282.3L1316 282.3M2129 282.3L2118 282.3M1305 279.9L1316 279.9M2129 279.9L2118 279.9M1305 263.9L1316 263.9M2129 263.9L2118 263.9M1305 255.8L1316 255.8M2129 255.8L2118 255.8M1305 250L1316 250M2129 250L2118 250M1305 245.5L1316 245.5M2129 245.5L2118 245.5M1305 241.8L1316 241.8M2129 241.8L2118 241.8M1305 238.8L1316 238.8M2129 238.8L2118 238.8M1305 236.1L1316 236.1M2129 236.1L2118 236.1M1305 233.7L1316 233.7M2129 233.7L2118 233.7M1305 217.7L1316 217.7M2129 217.7L2118 217.7M1305 209.6L1316 209.6M2129 209.6L2118 209.6M1305 203.8L1316 203.8M2129 203.8L2118 203.8M1305 199.3L1316 199.3M2129 199.3L2118 199.3M1305 195.6L1316 195.6M2129 195.6L2118 195.6M1305 192.6L1316 192.6M2129 192.6L2118 192.6M1305 189.9L1316 189.9M2129 189.9L2118 189.9M1305 187.5L1316 187.5M2129 187.5L2118 187.5M1305 171.5L1316 171.5M2129 171.5L2118 171.5M1305 163.4L1316 163.4M2129 163.4L2118 163.4M1305 157.6L1316 157.6M2129 157.6L2118 157.6M1305 153.1L1316 153.1M2129 153.1L2118 153.1M1305 149.4L1316 149.4M2129 149.4L2118 149.4M1305 146.4L1316 146.4M2129 146.4L2118 146.4M1305 143.7L1316 143.7M2129 143.7L2118 143.7M1305 141.3L1316 141.3M2129 141.3L2118 141.3M1305 125.3L1316 125.3M2129 125.3L2118 125.3M1305 117.2L1316 117.2M2129 117.2L2118 117.2M1305 111.4L1316 111.4M2129 111.4L2118 111.4M1305 106.9L1316 106.9M2129 106.9L2118 106.9M1305 103.2L1316 103.2M2129 103.2L2118 103.2M1305 100.2L1316 100.2M2129 100.2L2118 100.2M1305 97.5L1316 97.5M2129 97.5L2118 97.5M1305 95.1L1316 95.1M2129 95.1L2118 95.1M1305 79.1L1316 79.1M2129 79.1L2118 79.1M1305 71L1316 71M2129 71L2118 71M1305 65.2L1316 65.2M2129 65.2L2118 65.2M1305 60.7L1316 60.7M2129 60.7L2118 60.7M1305 57L1316 57M2129 57L2118 57M1305 54L1316 54M2129 54L2118 54M1305 51.3L1316 51.3M2129 51.3L2118 51.3M1305 48.9L1316 48.9M2129 48.9L2118 48.9M1316.1 816.6L1316.1 806.1M1325.2 816.6L1325.2 806.1M1333.2 816.6L1333.2 806.1M1340.2 816.6L1340.2 806.1M1387.8 816.6L1387.8 806.1M1412 816.6L1412 806.1M1429.1 816.6L1429.1 806.1M1442.4 816.6L1442.4 806.1M1453.3 816.6L1453.3 806.1M1462.5 816.6L1462.5 806.1M1470.4 816.6L1470.4 806.1M1477.5 816.6L1477.5 806.1M1525.1 816.6L1525.1 806.1M1549.2 816.6L1549.2 806.1M1566.4 816.6L1566.4 806.1M1579.7 816.6L1579.7 806.1M1590.6 816.6L1590.6 806.1M1599.7 816.6L1599.7 806.1M1607.7 816.6L1607.7 806.1M1614.7 816.6L1614.7 806.1M1662.3 816.6L1662.3 806.1M1686.5 816.6L1686.5 806.1M1703.6 816.6L1703.6 806.1M1716.9 816.6L1716.9 806.1M1727.8 816.6L1727.8 806.1M1737 816.6L1737 806.1M1744.9 816.6L1744.9 806.1M1752 816.6L1752 806.1M1799.6 816.6L1799.6 806.1M1823.7 816.6L1823.7 806.1M1840.9 816.6L1840.9 806.1M1854.2 816.6L1854.2 806.1M1865.1 816.6L1865.1 806.1M1874.2 816.6L1874.2 806.1M1882.2 816.6L1882.2 806.1M1889.2 816.6L1889.2 806.1M1936.8 816.6L1936.8 806.1M1961 816.6L1961 806.1M1978.1 816.6L1978.1 806.1M1991.4 816.6L1991.4 806.1M2002.3 816.6L2002.3 806.1M2011.5 816.6L2011.5 806.1M2019.4 816.6L2019.4 806.1M2026.5 816.6L2026.5 806.1M2074.1 816.6L2074.1 806.1M2098.2 816.6L2098.2 806.1M2115.4 816.6L2115.4 806.1M1305 812.8L1316 812.8M2129 812.8L2118 812.8M1305 809.9L1316 809.9M2129 809.9L2118 809.9M1305 807.3L1316 807.3M2129 807.3L2118 807.3M1305 805L1316 805M2129 805L2118 805M1305 789.7L1316 789.7M2129 789.7L2118 789.7M1305 781.9L1316 781.9M2129 781.9L2118 781.9M1305 776.3L1316 776.3M2129 776.3L2118 776.3M1305 772L1316 772M2129 772L2118 772M1305 768.5L1316 768.5M2129 768.5L2118 768.5M1305 765.6L1316 765.6M2129 765.6L2118 765.6M1305 763L1316 763M2129 763L2118 763M1305 760.7L1316 760.7M2129 760.7L2118 760.7M1305 745.4L1316 745.4M2129 745.4L2118 745.4M1305 737.6L1316 737.6M2129 737.6L2118 737.6M1305 732L1316 732M2129 732L2118 732M1305 727.7L1316 727.7M2129 727.7L2118 727.7M1305 724.2L1316 724.2M2129 724.2L2118 724.2M1305 721.3L1316 721.3M2129 721.3L2118 721.3M1305 718.7L1316 718.7M2129 718.7L2118 718.7M1305 716.4L1316 716.4M2129 716.4L2118 716.4M1305 701.1L1316 701.1M2129 701.1L2118 701.1M1305 693.3L1316 693.3M2129 693.3L2118 693.3M1305 687.7L1316 687.7M2129 687.7L2118 687.7M1305 683.5L1316 683.5M2129 683.5L2118 683.5M1305 679.9L1316 679.9M2129 679.9L2118 679.9M1305 677L1316 677M2129 677L2118 677M1305 674.4L1316 674.4M2129 674.4L2118 674.4M1305 672.1L1316 672.1M2129 672.1L2118 672.1M1305 656.8L1316 656.8M2129 656.8L2118 656.8M1305 649L1316 649M2129 649L2118 649M1305 643.5L1316 643.5M2129 643.5L2118 643.5M1305 639.2L1316 639.2M2129 639.2L2118 639.2M1305 635.7L1316 635.7M2129 635.7L2118 635.7M1305 632.7L1316 632.7M2129 632.7L2118 632.7M1305 630.1L1316 630.1M2129 630.1L2118 630.1M1305 627.9L1316 627.9M2129 627.9L2118 627.9M1305 612.5L1316 612.5M2129 612.5L2118 612.5M1305 604.7L1316 604.7M2129 604.7L2118 604.7M1305 599.2L1316 599.2M2129 599.2L2118 599.2M1305 594.9L1316 594.9M2129 594.9L2118 594.9M1305 591.4L1316 591.4M2129 591.4L2118 591.4M1305 588.4L1316 588.4M2129 588.4L2118 588.4M1305 585.8L1316 585.8M2129 585.8L2118 585.8M1305 583.6L1316 583.6M2129 583.6L2118 583.6M1305 568.2L1316 568.2M2129 568.2L2118 568.2M1305 560.4L1316 560.4M2129 560.4L2118 560.4M1305 554.9L1316 554.9M2129 554.9L2118 554.9M1305 550.6L1316 550.6M2129 550.6L2118 550.6M1305 547.1L1316 547.1M2129 547.1L2118 547.1M1305 544.1L1316 544.1M2129 544.1L2118 544.1M1305 541.5L1316 541.5M2129 541.5L2118 541.5M1305 539.3L1316 539.3M2129 539.3L2118 539.3M1305 523.9L1316 523.9M2129 523.9L2118 523.9M1305 516.1L1316 516.1M2129 516.1L2118 516.1M1305 510.6L1316 510.6M2129 510.6L2118 510.6M1305 506.3L1316 506.3M2129 506.3L2118 506.3M1305 502.8L1316 502.8M2129 502.8L2118 502.8M1305 499.8L1316 499.8M2129 499.8L2118 499.8M1305 497.3L1316 497.3M2129 497.3L2118 497.3M1305 495L1316 495M2129 495L2118 495M1305 479.6L1316 479.6M2129 479.6L2118 479.6M1305 471.8L1316 471.8M2129 471.8L2118 471.8M1305 466.3L1316 466.3M2129 466.3L2118 466.3M1305 462L1316 462M2129 462L2118 462M1305 458.5L1316 458.5M2129 458.5L2118 458.5M1305 455.5L1316 455.5M2129 455.5L2118 455.5M1305 453L1316 453M2129 453L2118 453M1305 450.7L1316 450.7M2129 450.7L2118 450.7M1305 435.3L1316 435.3M2129 435.3L2118 435.3M1316.1 1205.2L1316.1 1194.7M1325.2 1205.2L1325.2 1194.7M1333.2 1205.2L1333.2 1194.7M1340.2 1205.2L1340.2 1194.7M1387.8 1205.2L1387.8 1194.7M1412 1205.2L1412 1194.7M1429.1 1205.2L1429.1 1194.7M1442.4 1205.2L1442.4 1194.7M1453.3 1205.2L1453.3 1194.7M1462.5 1205.2L1462.5 1194.7M1470.4 1205.2L1470.4 1194.7M1477.5 1205.2L1477.5 1194.7M1525.1 1205.2L1525.1 1194.7M1549.2 1205.2L1549.2 1194.7M1566.4 1205.2L1566.4 1194.7M1579.7 1205.2L1579.7 1194.7M1590.6 1205.2L1590.6 1194.7M1599.7 1205.2L1599.7 1194.7M1607.7 1205.2L1607.7 1194.7M1614.7 1205.2L1614.7 1194.7M1662.3 1205.2L1662.3 1194.7M1686.5 1205.2L1686.5 1194.7M1703.6 1205.2L1703.6 1194.7M1716.9 1205.2L1716.9 1194.7M1727.8 1205.2L1727.8 1194.7M1737 1205.2L1737 1194.7M1744.9 1205.2L1744.9 1194.7M1752 1205.2L1752 1194.7M1799.6 1205.2L1799.6 1194.7M1823.7 1205.2L1823.7 1194.7M1840.9 1205.2L1840.9 1194.7M1854.2 1205.2L1854.2 1194.7M1865.1 1205.2L1865.1 1194.7M1874.2 1205.2L1874.2 1194.7M1882.2 1205.2L1882.2 1194.7M1889.2 1205.2L1889.2 1194.7M1936.8 1205.2L1936.8 1194.7M1961 1205.2L1961 1194.7M1978.1 1205.2L1978.1 1194.7M1991.4 1205.2L1991.4 1194.7M2002.3 1205.2L2002.3 1194.7M2011.5 1205.2L2011.5 1194.7M2019.4 1205.2L2019.4 1194.7M2026.5 1205.2L2026.5 1194.7M2074.1 1205.2L2074.1 1194.7M2098.2 1205.2L2098.2 1194.7M2115.4 1205.2L2115.4 1194.7M1305 1188.7L1316 1188.7M2129 1188.7L2118 1188.7M1305 1178.8L1316 1178.8M2129 1178.8L2118 1178.8M1305 1171.8L1316 1171.8M2129 1171.8L2118 1171.8M1305 1166.3L1316 1166.3M2129 1166.3L2118 1166.3M1305 1161.9L1316 1161.9M2129 1161.9L2118 1161.9M1305 1158.1L1316 1158.1M2129 1158.1L2118 1158.1M1305 1154.8L1316 1154.8M2129 1154.8L2118 1154.8M1305 1152L1316 1152M2129 1152L2118 1152M1305 1132.5L1316 1132.5M2129 1132.5L2118 1132.5M1305 1122.6L1316 1122.6M2129 1122.6L2118 1122.6M1305 1115.5L1316 1115.5M2129 1115.5L2118 1115.5M1305 1110.1L1316 1110.1M2129 1110.1L2118 1110.1M1305 1105.6L1316 1105.6M2129 1105.6L2118 1105.6M1305 1101.9L1316 1101.9M2129 1101.9L2118 1101.9M1305 1098.6L1316 1098.6M2129 1098.6L2118 1098.6M1305 1095.7L1316 1095.7M2129 1095.7L2118 1095.7M1305 1076.2L1316 1076.2M2129 1076.2L2118 1076.2M1305 1066.3L1316 1066.3M2129 1066.3L2118 1066.3M1305 1059.3L1316 1059.3M2129 1059.3L2118 1059.3M1305 1053.9L1316 1053.9M2129 1053.9L2118 1053.9M1305 1049.4L1316 1049.4M2129 1049.4L2118 1049.4M1305 1045.6L1316 1045.6M2129 1045.6L2118 1045.6M1305 1042.4L1316 1042.4M2129 1042.4L2118 1042.4M1305 1039.5L1316 1039.5M2129 1039.5L2118 1039.5M1305 1020L1316 1020M2129 1020L2118 1020M1305 1010.1L1316 1010.1M2129 1010.1L2118 1010.1M1305 1003.1L1316 1003.1M2129 1003.1L2118 1003.1M1305 997.6L1316 997.6M2129 997.6L2118 997.6M1305 993.2L1316 993.2M2129 993.2L2118 993.2M1305 989.4L1316 989.4M2129 989.4L2118 989.4M1305 986.2L1316 986.2M2129 986.2L2118 986.2M1305 983.3L1316 983.3M2129 983.3L2118 983.3M1305 963.8L1316 963.8M2129 963.8L2118 963.8M1305 953.9L1316 953.9M2129 953.9L2118 953.9M1305 946.9L1316 946.9M2129 946.9L2118 946.9M1305 941.4L1316 941.4M2129 941.4L2118 941.4M1305 937L1316 937M2129 937L2118 937M1305 933.2L1316 933.2M2129 933.2L2118 933.2M1305 929.9L1316 929.9M2129 929.9L2118 929.9M1305 927.1L1316 927.1M2129 927.1L2118 927.1M1305 907.6L1316 907.6M2129 907.6L2118 907.6M1305 897.7L1316 897.7M2129 897.7L2118 897.7M1305 890.7L1316 890.7M2129 890.7L2118 890.7M1305 885.2L1316 885.2M2129 885.2L2118 885.2M1305 880.8L1316 880.8M2129 880.8L2118 880.8M1305 877L1316 877M2129 877L2118 877M1305 873.7L1316 873.7M2129 873.7L2118 873.7M1305 870.9L1316 870.9M2129 870.9L2118 870.9M1305 851.4L1316 851.4M2129 851.4L2118 851.4M1305 841.5L1316 841.5M2129 841.5L2118 841.5M1305 834.4L1316 834.4M2129 834.4L2118 834.4M1305 829L1316 829M2129 829L2118 829M1305 824.5L1316 824.5M2129 824.5L2118 824.5M1305 820.8L1316 820.8M2129 820.8L2118 820.8" stroke="#000" stroke-width="3.6" fill="none"/>
<path d="M1346.5 427.6L1346.5 408.1M1346.5 39.4L1346.5 58.9M1483.8 427.6L1483.8 408.1M1483.8 39.4L1483.8 58.9M1621 427.6L1621 408.1M1621 39.4L1621 58.9M1758.2 427.6L1758.2 408.1M1758.2 39.4L1758.2 58.9M1895.5 427.6L1895.5 408.1M1895.5 39.4L1895.5 58.9M2032.8 427.6L2032.8 408.1M2032.8 39.4L2032.8 58.9M1305 416.4L1325 416.4M2129 416.4L2109 416.4M1305 370.2L1325 370.2M2129 370.2L2109 370.2M1305 324L1325 324M2129 324L2109 324M1305 277.8L1325 277.8M2129 277.8L2109 277.8M1305 231.6L1325 231.6M2129 231.6L2109 231.6M1305 185.4L1325 185.4M2129 185.4L2109 185.4M1305 139.2L1325 139.2M2129 139.2L2109 139.2M1305 93L1325 93M2129 93L2109 93M1305 46.8L1325 46.8M2129 46.8L2109 46.8M1346.5 816.6L1346.5 797.1M1483.8 816.6L1483.8 797.1M1621 816.6L1621 797.1M1758.2 816.6L1758.2 797.1M1895.5 816.6L1895.5 797.1M2032.8 816.6L2032.8 797.1M1305 803L1325 803M2129 803L2109 803M1305 758.7L1325 758.7M2129 758.7L2109 758.7M1305 714.4L1325 714.4M2129 714.4L2109 714.4M1305 670.1L1325 670.1M2129 670.1L2109 670.1M1305 625.8L1325 625.8M2129 625.8L2109 625.8M1305 581.5L1325 581.5M2129 581.5L2109 581.5M1305 537.2L1325 537.2M2129 537.2L2109 537.2M1305 493L1325 493M2129 493L2109 493M1305 448.7L1325 448.7M2129 448.7L2109 448.7M1346.5 1205.2L1346.5 1185.7M1483.8 1205.2L1483.8 1185.7M1621 1205.2L1621 1185.7M1758.2 1205.2L1758.2 1185.7M1895.5 1205.2L1895.5 1185.7M2032.8 1205.2L2032.8 1185.7M1305 1149.4L1325 1149.4M2129 1149.4L2109 1149.4M1305 1093.2L1325 1093.2M2129 1093.2L2109 1093.2M1305 1036.9L1325 1036.9M2129 1036.9L2109 1036.9M1305 980.7L1325 980.7M2129 980.7L2109 980.7M1305 924.5L1325 924.5M2129 924.5L2109 924.5M1305 868.3L1325 868.3M2129 868.3L2109 868.3" stroke="#000" stroke-width="3.9" fill="none"/>
<rect x="1305" y="39.4" width="824" height="388.2" fill="none" stroke="#000" stroke-width="5.0"/>
<rect x="1305" y="427.6" width="824" height="389" fill="none" stroke="#000" stroke-width="5.0"/>
<rect x="1305" y="816.6" width="824" height="388.6" fill="none" stroke="#000" stroke-width="5.0"/>
<text font-size="57" text-anchor="end" transform="translate(190.2 156) scale(0.955 1)">10<tspan dy="-29.5" font-size="33">6</tspan></text>
<text font-size="57" text-anchor="end" transform="translate(190.2 253.7) scale(0.955 1)">10<tspan dy="-29.5" font-size="33">4</tspan></text>
<text font-size="57" text-anchor="end" transform="translate(190.2 351.5) scale(0.955 1)">10<tspan dy="-29.5" font-size="33">2</tspan></text>
<text font-size="57" text-anchor="end" transform="translate(190.2 462.1) scale(0.955 1)">10<tspan dy="-29.5" font-size="33">6</tspan></text>
<text font-size="57" text-anchor="end" transform="translate(190.2 585.9) scale(0.955 1)">10<tspan dy="-29.5" font-size="33">4</tspan></text>
<text font-size="57" text-anchor="end" transform="translate(190.2 709.6) scale(0.955 1)">10<tspan dy="-29.5" font-size="33">2</tspan></text>
<text font-size="57" text-anchor="end" transform="translate(190.2 906.6) scale(0.955 1)">10<tspan dy="-29.5" font-size="33">4</tspan></text>
<text font-size="57" text-anchor="end" transform="translate(190.2 1061) scale(0.955 1)">10<tspan dy="-29.5" font-size="33">2</tspan></text>
<text font-size="57" text-anchor="end" transform="translate(190.2 1215.5) scale(0.955 1)">10<tspan dy="-29.5" font-size="33">0</tspan></text>
<text font-size="57" text-anchor="end" transform="translate(1286.6 115.8) scale(0.955 1)">10<tspan dy="-29.5" font-size="33">6</tspan></text>
<text font-size="57" text-anchor="end" transform="translate(1286.6 208.2) scale(0.955 1)">10<tspan dy="-29.5" font-size="33">4</tspan></text>
<text font-size="57" text-anchor="end" transform="translate(1286.6 300.6) scale(0.955 1)">10<tspan dy="-29.5" font-size="33">2</tspan></text>
<text font-size="57" text-anchor="end" transform="translate(1286.6 393) scale(0.955 1)">10<tspan dy="-29.5" font-size="33">0</tspan></text>
<text font-size="57" text-anchor="end" transform="translate(1286.6 515.8) scale(0.955 1)">10<tspan dy="-29.5" font-size="33">6</tspan></text>
<text font-size="57" text-anchor="end" transform="translate(1286.6 604.3) scale(0.955 1)">10<tspan dy="-29.5" font-size="33">4</tspan></text>
<text font-size="57" text-anchor="end" transform="translate(1286.6 692.9) scale(0.955 1)">10<tspan dy="-29.5" font-size="33">2</tspan></text>
<text font-size="57" text-anchor="end" transform="translate(1286.6 781.5) scale(0.955 1)">10<tspan dy="-29.5" font-size="33">0</tspan></text>
<text font-size="57" text-anchor="end" transform="translate(1286.6 891.1) scale(0.955 1)">10<tspan dy="-29.5" font-size="33">6</tspan></text>
<text font-size="57" text-anchor="end" transform="translate(1286.6 1003.5) scale(0.955 1)">10<tspan dy="-29.5" font-size="33">4</tspan></text>
<text font-size="57" text-anchor="end" transform="translate(1286.6 1116) scale(0.955 1)">10<tspan dy="-29.5" font-size="33">2</tspan></text>
<text font-size="57" text-anchor="end" transform="translate(1286.6 1228.4) scale(0.955 1)">10<tspan dy="-29.5" font-size="33">0</tspan></text>
<text font-size="63" transform="translate(210.5 1273) scale(0.965 1)">10<tspan dy="-33.7" font-size="38">0</tspan></text>
<text font-size="63" transform="translate(346.2 1273) scale(0.965 1)">10<tspan dy="-33.7" font-size="38">1</tspan></text>
<text font-size="63" transform="translate(481.8 1273) scale(0.965 1)">10<tspan dy="-33.7" font-size="38">2</tspan></text>
<text font-size="63" transform="translate(617.5 1273) scale(0.965 1)">10<tspan dy="-33.7" font-size="38">3</tspan></text>
<text font-size="63" transform="translate(753.1 1273) scale(0.965 1)">10<tspan dy="-33.7" font-size="38">4</tspan></text>
<text font-size="63" transform="translate(888.8 1273) scale(0.965 1)">10<tspan dy="-33.7" font-size="38">5</tspan></text>
<text font-size="63" transform="translate(1307.7 1286.2) scale(0.965 1)">10<tspan dy="-33.7" font-size="38">0</tspan></text>
<text font-size="63" transform="translate(1445 1286.2) scale(0.965 1)">10<tspan dy="-33.7" font-size="38">1</tspan></text>
<text font-size="63" transform="translate(1582.2 1286.2) scale(0.965 1)">10<tspan dy="-33.7" font-size="38">2</tspan></text>
<text font-size="63" transform="translate(1719.5 1286.2) scale(0.965 1)">10<tspan dy="-33.7" font-size="38">3</tspan></text>
<text font-size="63" transform="translate(1856.7 1286.2) scale(0.965 1)">10<tspan dy="-33.7" font-size="38">4</tspan></text>
<text font-size="63" transform="translate(1994 1286.2) scale(0.965 1)">10<tspan dy="-33.7" font-size="38">5</tspan></text>
<text x="709.5" y="123" font-size="50" textLength="268" lengthAdjust="spacingAndGlyphs">PEO<tspan dy="17" font-size="24">10</tspan><tspan dy="-17">LiClO</tspan><tspan dy="17" font-size="29">4</tspan></text>
<text x="712.3" y="481.5" font-size="50" textLength="266" lengthAdjust="spacingAndGlyphs">PEO<tspan dy="17" font-size="24">12</tspan><tspan dy="-17">LiClO</tspan><tspan dy="17" font-size="29">4</tspan></text>
<text x="716" y="872.2" font-size="50" textLength="266" lengthAdjust="spacingAndGlyphs">PEO<tspan dy="17" font-size="24">15</tspan><tspan dy="-17">LiClO</tspan><tspan dy="17" font-size="29">4</tspan></text>
<text x="1668" y="105.7" font-size="50" textLength="420" lengthAdjust="spacingAndGlyphs">PEO<tspan dy="17" font-size="24">10</tspan><tspan dy="-17">LiClO</tspan><tspan dy="17" font-size="24">4</tspan><tspan dy="-17">-LLZO</tspan></text>
<text x="1661" y="489.6" font-size="50" textLength="422" lengthAdjust="spacingAndGlyphs">PEO<tspan dy="17" font-size="24">12</tspan><tspan dy="-17">LiClO</tspan><tspan dy="17" font-size="24">4</tspan><tspan dy="-17">-LLZO</tspan></text>
<text x="1661" y="872.8" font-size="50" textLength="421" lengthAdjust="spacingAndGlyphs">PEO<tspan dy="17" font-size="24">15</tspan><tspan dy="-17">LiClO</tspan><tspan dy="17" font-size="24">4</tspan><tspan dy="-17">-LLZO</tspan></text>
<text x="255" y="105.3" font-size="61.5">(a)</text>
<text x="1347.5" y="88.3" font-size="60">(b)</text>
<text class="it" font-size="63" transform="translate(508.5 1359.5) scale(1.4 1)">f</text>
<text font-size="63" transform="translate(554.1 1358.6) scale(0.94 1)">(Hz)</text>
<text class="it" font-size="63" transform="translate(1640 1364.5) scale(1.4 1)">f</text>
<text font-size="63" transform="translate(1684.5 1363.7) scale(0.94 1)">(Hz)</text>
<text class="it" font-size="76" transform="translate(90.8 710.5) rotate(-90) scale(1.25 1)">ε</text>
<text class="it" font-size="120" transform="translate(111.6 677.9) rotate(-90)">′</text>
<text class="it" font-size="84" transform="translate(89.8 660.6) rotate(-90)">,</text>
<text class="it" font-size="76" fill="#ff0000" style="fill:#ff0000" transform="translate(90.8 614.7) rotate(-90) scale(1.25 1)">ε</text>
<text class="it" font-size="120" style="fill:#ff0000" transform="translate(111.6 583) rotate(-90) scale(0.9 1)">″</text>
<text class="it" font-size="76" transform="translate(1165.1 725.5) rotate(-90) scale(1.25 1)">ε</text>
<text class="it" font-size="120" transform="translate(1185.9 692.9) rotate(-90)">′</text>
<text class="it" font-size="84" transform="translate(1163.4 674.9) rotate(-90)">,</text>
<text class="it" font-size="76" fill="#ff0000" style="fill:#ff0000" transform="translate(1165.1 629) rotate(-90) scale(1.25 1)">ε</text>
<text class="it" font-size="120" style="fill:#ff0000" transform="translate(1186 598) rotate(-90) scale(0.9 1)">″</text>
</svg></body></html>
